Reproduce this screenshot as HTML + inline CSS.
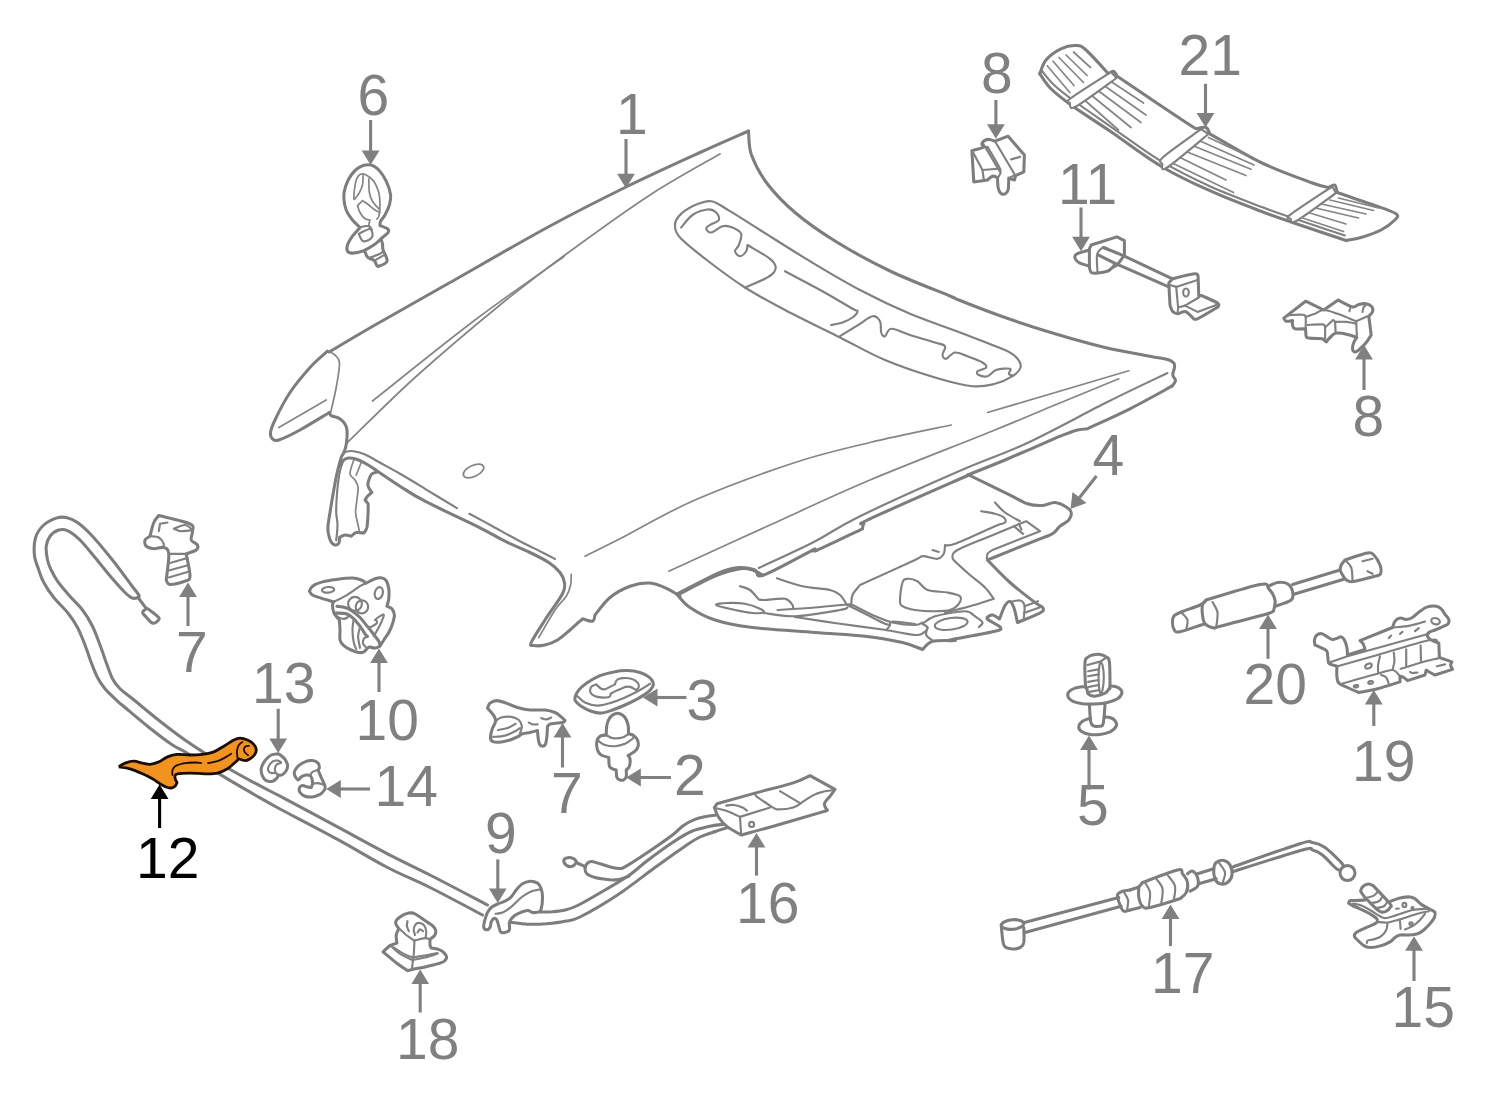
<!DOCTYPE html>
<html><head><meta charset="utf-8">
<style>
html,body{margin:0;padding:0;background:#fff;}
body{width:1487px;height:1093px;overflow:hidden;font-family:"Liberation Sans",sans-serif;}
svg{display:block;position:absolute;left:0;top:0;}
svg path,svg line,svg ellipse,svg circle,svg polyline,svg polygon{vector-effect:non-scaling-stroke;}
.o{fill:none;stroke:#7d7d7d;stroke-width:3.05;stroke-linecap:round;stroke-linejoin:round;}
.m{fill:none;stroke:#808080;stroke-width:2.15;stroke-linecap:round;stroke-linejoin:round;}
.t{fill:none;stroke:#858585;stroke-width:1.7;stroke-linecap:round;stroke-linejoin:round;}
.w{fill:#fff;}
.lbl{font-family:"Liberation Sans",sans-serif;font-size:56px;fill:#808080;}
.ar{fill:#808080;stroke:none;}
.al{stroke:#808080;stroke-width:2.6;fill:none;}
</style></head><body>
<svg width="1487" height="1093" viewBox="0 0 1487 1093">
<path class="o" d="M748.5,131C740.4,134.6 720.6,143.1 700,152.5C679.4,161.9 650,175.2 625,187.5C600,199.8 579.2,210.2 550,226C520.8,241.8 479.2,266 450,282.5C420.8,299 395.2,313.4 375,325C354.8,336.6 336.7,347.5 329,352"/>
<path class="o" d="M748.5,131C749,135 748.3,146.2 751.5,155C754.7,163.8 760.2,174.4 767.5,184C774.8,193.6 783.8,203 795,212.5C806.2,222 819.2,231.2 835,241C850.8,250.8 870.8,261.8 890,271C909.2,280.2 938.5,291.2 950,296C961.5,300.8 949.6,296.4 958.8,300C967.9,303.6 989,311.9 1005,317.5C1021,323.1 1038.3,328.8 1055,333.8C1071.7,338.8 1089.2,343.8 1105,347.5C1120.8,351.2 1139.6,354.2 1150,356.2C1160.4,358.2 1163.5,358.4 1167.5,359.5C1171.5,360.6 1172.6,361.7 1173.8,363C1174.9,364.3 1174.7,365.5 1174.5,367.5C1174.3,369.5 1172.6,372.8 1172.8,375C1172.9,377.2 1175.6,378.6 1175.5,380.5C1175.4,382.4 1172.6,385.3 1172,386.2"/>
<path class="t" d="M720,154C708.3,160.8 675.8,178.2 650,195C624.2,211.8 590,236.7 565,255C540,273.3 525,284.6 500,305C475,325.4 440.4,354.6 415,377.5C389.6,400.4 358.8,431.7 347.5,442.5"/>
<path class="t" d="M564,256.5C549.2,267.1 506.9,295.9 475,320C443.1,344.1 389.6,387.5 372.5,401"/>
<path class="o" d="M327.5,351.2C324.6,354 316.2,360.6 310,367.5C303.8,374.4 295.8,383.8 290,392.5C284.2,401.2 278.2,413.3 275,420C271.8,426.7 270.9,429.4 270.5,432.5C270.1,435.6 271.1,437.5 272.5,438.8C273.9,440 274.2,441.5 278.8,440C283.3,438.5 291.6,434.6 300,430C308.4,425.4 324.5,415.4 329.4,412.5"/>
<path class="t" d="M328.8,351.2C330,352.1 334.5,354.2 336.2,356.2C338,358.3 339.5,358.5 339.5,363.8C339.5,369 337.7,379.4 336.2,387.5C334.8,395.6 331.6,408.3 330.6,412.5"/>
<path class="t" d="M278.8,427.5L326.2,400"/>
<path class="o" d="M329.4,412.5C329.7,413 329.7,414.7 331.2,415.6C332.8,416.6 336.6,416.9 338.8,418.1C340.9,419.4 343,421.2 344.4,423.1C345.7,425 346.5,426.8 346.9,429.4C347.3,432 347.1,435.7 346.9,438.8C346.7,441.8 346.2,445 345.6,447.5C345,450 343.9,452.1 343.1,453.8C342.4,455.4 342.2,454.6 341.2,457.5C340.3,460.4 338.8,465.8 337.5,471.2C336.2,476.7 335,483.1 333.8,490C332.5,496.9 330.9,506.7 330,512.5C329.1,518.3 328.4,521.7 328.1,525C327.8,528.3 327.8,529.8 328.2,532.5C328.7,535.2 329.6,539.2 330.8,541.2C331.9,543.3 333.6,544.7 335,545C336.4,545.3 338.2,544.2 339,543C339.8,541.8 339.4,538.4 339.5,537.5C340.4,537.1 343,535.2 345,535C347,534.8 350.2,536 351.2,536.2C352.1,535.6 354.2,533 356.2,532.5C358.3,532 362.5,533 363.8,533.1C364.3,532.2 366.1,530.9 366.9,527.5C367.6,524.1 367.9,516.5 368.1,512.5C368.3,508.5 368.1,505.2 368.1,503.8L365,500C365.4,499.4 366.4,497.5 367.5,496.2C368.6,495 371.1,493.1 371.9,492.5C371.2,491.5 368.6,488.3 368.1,486.2C367.6,484.2 368.1,482.1 368.8,480C369.4,477.9 370.4,475.1 371.9,473.8C373.3,472.4 376.6,472.2 377.5,471.9"/>
<path class="m" d="M341.9,462.5C341.4,465 339.6,472.1 338.8,477.5C337.9,482.9 337.3,489.2 336.9,495C336.5,500.8 336.1,507.5 336.2,512.5C336.4,517.5 337.5,520.3 337.5,525C337.5,529.7 336.5,537.9 336.2,540.5"/>
<path class="t" d="M353.8,460C353.1,462.3 349.8,470.4 350,473.8C350.2,477.1 353.6,477.7 355,480C356.4,482.3 357.8,484.2 358.1,487.5C358.4,490.8 357.3,495.8 356.9,500C356.5,504.2 355.5,508.8 355.6,512.5C355.7,516.2 356.9,519.4 357.5,522.5C358.1,525.6 359.1,529.8 359.4,531.2"/>
<path class="t" d="M361.2,462.5L356.2,475"/>
<path class="m" d="M343.1,453.8C343.8,453.4 345.1,451.9 346.9,451.5C348.6,451.1 350.7,450.8 353.8,451.2C356.8,451.7 361,452.7 365,454.4C369,456 371.7,458 377.5,461.2C383.3,464.5 392.1,469.2 400,473.8C407.9,478.3 415.5,483 425,488.8C434.5,494.5 451.6,504.9 456.9,508.1"/>
<path class="m" d="M469.4,513.8C473.2,515.8 484.5,521.9 492.5,526.2C500.5,530.6 509.2,535.6 517.5,540C525.8,544.4 536.2,549.3 542.5,552.5C548.8,555.7 552.9,557.9 555,559"/>
<path class="o" d="M341.2,465C341.6,464.3 342,461.8 343.1,460.6C344.3,459.5 346.1,458.4 348.1,458.1C350.1,457.8 352.2,457.9 355,458.8C357.8,459.6 361.2,461 365,463.1C368.8,465.2 371.7,467.4 377.5,471.2C383.3,475.1 392.1,481.2 400,486.2C407.9,491.2 411.7,494.3 425,501.2C438.3,508.2 466.7,521.1 480,527.8C493.3,534.4 496.7,537.1 505,541.2C513.3,545.4 522.7,549 530,552.5C537.3,556 543.8,559.2 548.8,562.5C553.8,565.8 557.4,569.2 560,572.5C562.6,575.8 564,579 564.4,582.5C564.8,586 565.7,587.5 562.5,593.8C559.3,600 550.2,611.9 545,620C539.8,628.1 533.1,638.2 531.2,642.5C529.4,646.8 531.5,645.1 533.8,645.5C536,645.9 541,645.9 545,645C549,644.1 553.3,642.5 557.5,640C561.7,637.5 565.8,633.5 570,630C574.2,626.5 580.4,620.6 582.5,618.8C584.2,619.2 590.4,621.9 592.5,621.2C594.6,620.6 594.6,616 595,615C597.5,612.1 604.2,602.3 610,597.5C615.8,592.7 623.3,588.7 630,586.2C636.7,583.8 643.8,582.6 650,583C656.2,583.4 662.5,586.5 667.5,588.8C672.5,591 677.9,595 680,596.2"/>
<path class="t" d="M571.2,574.4C571.1,576.1 571.5,581.4 570.6,585C569.8,588.6 568.9,592.1 566.2,596.2C563.6,600.4 559.6,603.1 555,610C550.4,616.9 541.5,632.9 538.8,637.5"/>
<ellipse class="t" cx="473.5" cy="471" rx="11" ry="5.5" transform="rotate(-25 473.5 471)"/>
<path class="t" d="M585,556.2C590.8,553.3 601.7,548.1 620,538.8C638.3,529.4 665.8,512.7 695,500C724.2,487.3 765.8,472.1 795,462.5C824.2,452.9 844,448.8 870,442.5C896,436.2 937.7,427.9 951.2,425"/>
<path class="t" d="M668.8,571.2C685.6,563.5 736.5,540.2 770,525C803.5,509.8 833,495.6 870,480C907,464.4 960.9,443.8 991.8,431.2C1022.6,418.8 1033.8,413.8 1055,405C1076.2,396.2 1108.1,383.1 1118.8,378.8"/>
<path class="t" d="M1128.8,370.8L987.5,412.5"/>
<path class="m" d="M758.8,568C767.9,563.7 796.9,550.6 813.8,542C830.6,533.4 835.6,528.1 860,516.2C884.4,504.4 932.2,482.9 960,470.8C987.8,458.6 1002.1,454.8 1026.8,443.2C1051.4,431.8 1084.3,413.5 1107.8,401.8C1131.2,390 1157.5,377.8 1167.5,373"/>
<path class="o" d="M1172,386.2C1165,390 1144.1,401.7 1130,408.8C1115.9,415.8 1094.6,425.4 1087.5,428.8C1085.8,429 1082.1,428.8 1077.5,430C1072.9,431.2 1062.9,435.2 1060,436.2C1050.8,440.2 1020.4,453.5 1005,460C989.6,466.5 973.8,472.5 967.5,475"/>
<path class="o" d="M968.8,475C952.3,482.3 887.5,510.6 870,518.8C852.5,526.9 865,522.1 863.8,523.8C862.5,525.4 862.7,527.9 862.5,528.8C855,532.3 825.4,546.7 817.5,550C809.6,553.3 815.4,549 815,548.8C806.5,553.1 773.8,571.5 763.8,575C753.8,578.5 759,571.2 755,570C751,568.8 745.8,567.1 740,567.5C734.2,567.9 730.4,568.1 720,572.5C709.6,576.9 684.6,590.2 677.5,593.8"/>
<path class="m" d="M711.2,201.2C705,200.4 697.9,203.8 692.5,206.2C687.1,208.8 681.7,212.9 678.8,216.2C675.8,219.6 674.6,222.5 675,226.2C675.4,230 675.4,232.7 681.2,238.8C687.1,244.8 699.4,254.4 710,262.5C720.6,270.6 732.5,279.6 745,287.5C757.5,295.4 769.2,301.7 785,310C800.8,318.3 823.3,329.2 840,337.5C856.7,345.8 869.2,353.3 885,360C900.8,366.7 920.4,373.1 935,377.5C949.6,381.9 962.5,385.2 972.5,386.2C982.5,387.3 988.3,385.4 995,383.8C1001.7,382.1 1008.2,379 1012.5,376.2C1016.8,373.5 1019.7,370.4 1020.5,367.5C1021.3,364.6 1020.1,361.7 1017.5,358.8C1014.9,355.8 1014.6,354.4 1005,350C995.4,345.6 975.8,338.5 960,332.5C944.2,326.5 926.7,320.8 910,313.8C893.3,306.7 876.7,298.8 860,290C843.3,281.2 826.7,271.2 810,261.2C793.3,251.2 773.3,238.3 760,230C746.7,221.7 738.1,216 730,211.2C721.9,206.5 717.5,202.1 711.2,201.2Z"/>
<path class="m" d="M681.2,227.5C683.1,225.4 688.1,218 692.5,215C696.9,212 703.5,209.9 707.5,209.5C711.5,209.1 714.4,210.8 716.2,212.5C718.1,214.2 719.8,217.9 718.8,220C717.7,222.1 712.1,223.5 710,225C707.9,226.5 706,227.5 706.2,228.8C706.5,230 708.5,232.9 711.2,232.5C714,232.1 719,227.1 722.5,226.2C726,225.4 729.4,226.2 732.5,227.5C735.6,228.8 740.2,230.8 741.2,233.8C742.3,236.7 739.8,242.1 738.8,245C737.7,247.9 734.8,249.4 735,251.2C735.2,253.1 738.1,256.2 740,256.2C741.9,256.2 745,253.1 746.2,251.2C747.5,249.4 747.3,246 747.5,245C751.2,247.3 765.3,255.2 770,258.8C774.7,262.3 774.9,264 775.5,266.2C776.1,268.5 775.5,270.4 773.8,272.5C772,274.6 769.8,276.2 765,278.8C760.2,281.2 748.3,286 745,287.5"/>
<path class="m" d="M785,271.2C791.2,274.6 811.2,285 822.5,291.2C833.8,297.5 846.7,305.4 852.5,308.8C858.3,312.1 857.5,309.8 857.5,311.2C857.5,312.7 855,315.6 852.5,317.5C850,319.4 846,321.2 842.5,322.5C839,323.8 833.1,324.6 831.2,325"/>
<path class="m" d="M840,336.2C843.3,334.2 854.6,327.1 860,323.8C865.4,320.4 869.2,316.7 872.5,316.2C875.8,315.8 878.5,318.5 880,321.2C881.5,324 880.4,330 881.2,332.5C882.1,335 883.3,336.9 885,336.2C886.7,335.6 887.1,329 891.2,328.8C895.4,328.5 902.7,332.7 910,335C917.3,337.3 929.2,340.6 935,342.5C940.8,344.4 943.8,344.2 945,346.2C946.2,348.3 942.3,352.9 942.5,355C942.7,357.1 944.2,359.2 946.2,358.8C948.3,358.3 951.5,352.9 955,352.5C958.5,352.1 962.9,354.6 967.5,356.2C972.1,357.9 979.4,360.6 982.5,362.5C985.6,364.4 987.1,366 986.2,367.5C985.4,369 978.8,370 977.5,371.2C976.2,372.5 977.1,374.2 978.8,375C980.4,375.8 984.6,377.1 987.5,376.2C990.4,375.4 992.5,371.2 996.2,370C1000,368.8 1007.9,368.1 1010,368.8C1012.1,369.4 1008.2,372.6 1008.8,373.8C1009.2,374.9 1012.3,375.4 1013,375.8"/>
<path class="o" d="M677.5,595C679.6,597.1 683.8,603.3 690,607.5C696.2,611.7 704.6,616.7 715,620C725.4,623.3 735.8,625.4 752.5,627.5C769.2,629.6 796.2,631 815,632.5C833.8,634 850.4,634.6 865,636.2C879.6,637.9 892.9,640.3 902.5,642.5C912.1,644.7 919.2,648.3 922.5,649.5C924.2,648.1 927.1,642.8 932.5,641.2C937.9,639.8 952.1,640.7 955,640.5C957.9,640.3 943.3,641.5 950,640C956.7,638.5 986.6,633.3 995,631.2C1003.4,629.2 1000.5,628.8 1000.5,627.5C1000.5,626.2 997.2,625.2 995,623.8C992.8,622.2 987.4,620 987,618.5C986.6,617 990.4,614.9 992.5,615C994.6,615.1 998.3,618.3 999.5,619C1000.4,616.8 1003.2,608.4 1005,605.5C1006.8,602.6 1008.5,601.1 1010,601.5C1011.5,601.9 1012.8,604.5 1014,608C1015.2,611.5 1016.9,620.1 1017.5,622.5C1021.2,620.9 1035.8,615.4 1040,613C1044.2,610.6 1043.8,609.8 1043,608C1042.2,606.2 1040.5,606.8 1035,602.5C1029.5,598.2 1017.9,589.6 1010,582.5C1002.1,575.4 991.2,563.8 987.5,560C996.2,556.5 1029.2,543.1 1040,538.8C1050.8,534.4 1049.2,535.8 1052.5,533.8C1055.8,531.7 1057.3,528.5 1060,526.2C1062.7,524 1066.9,522.3 1068.8,520C1070.6,517.7 1071.7,514.7 1071.2,512.5C1070.8,510.3 1069,508.7 1066.2,507C1063.5,505.3 1059,502.8 1055,502.5C1051,502.2 1047.1,505.3 1042.5,505.5C1037.9,505.7 1033.3,505.7 1027.5,503.8C1021.7,501.8 1017.3,498.5 1007.5,493.8C997.7,489 975.2,478.1 968.8,475"/>
<path class="o" d="M677.5,595C683.8,591.9 704.6,580.6 715,576.2C725.4,571.9 733.8,569.8 740,568.8C746.2,567.7 748.8,569 752.5,570C756.2,571 760.8,574.2 762.5,575"/>
<path class="m" d="M1010,602C1011.7,601.8 1017.6,599.9 1020,600.5C1022.4,601.1 1023.9,602.5 1024.5,605.5C1025.1,608.5 1023.9,616.5 1023.8,618.8"/>
<path class="m" d="M1024.5,606.2L1038,601.2"/>
<path class="m" d="M1023.8,613L1041,607"/>
<path class="m" d="M740,586.2C741.7,586.9 746.9,587.8 750,590C753.1,592.2 757.3,597.9 758.8,599.5C759.8,599.6 760.6,600.1 765,600C769.4,599.9 780.4,597.9 785,598.8C789.6,599.6 791.2,603.5 792.5,605C793.8,606.5 792.9,607.5 793,608"/>
<path class="m" d="M716.2,605C715,603.8 722.7,603.2 727.5,603C732.3,602.8 739.6,602.8 745,603.8C750.4,604.7 756.9,607.3 760,608.8C763.1,610.2 765,611.8 763.8,612.5C762.5,613.2 757.3,613.4 752.5,613C747.7,612.6 741,611.3 735,610C729,608.7 717.5,606.2 716.2,605Z"/>
<path class="m" d="M777,578.2C781.2,579.6 793.7,584.3 802.5,586.2C811.3,588.2 823.8,588.5 830,590C836.2,591.5 837.3,592.7 840,595C842.7,597.3 845.2,602.3 846.2,603.8"/>
<path class="m" d="M777.5,610C783.8,609.6 803.5,608.4 815,607.5C826.5,606.6 840,604.9 846.2,604.5C852.5,604.1 851.5,604.9 852.5,605"/>
<path class="m" d="M763.8,613C769,613.5 782.3,616.8 795,616.2C807.7,615.8 831.2,611.5 840,610C848.8,608.5 846.2,607.9 847.5,607.5"/>
<path class="m" d="M795,617C802.5,618.1 824.8,621.6 840,623.8C855.2,625.9 878.5,629 886.2,630"/>
<path class="m" d="M846.2,604.5C849.4,606 858.5,610.5 865,613.8C871.5,617 880.8,621.9 885,623.8C889.2,625.6 889.8,624 890,625C890.2,626 886.9,629.2 886.2,630"/>
<path class="m" d="M852.5,605C855.8,606.7 865.8,612.1 872.5,615C879.2,617.9 885.4,620.8 892.5,622.5C899.6,624.2 910,625 915,625C920,625 921.2,622.9 922.5,622.5"/>
<path class="m" d="M851.2,605C851.5,603.3 851,598.3 852.5,595C854,591.7 858.8,586.7 860,585C869.2,580.8 904.6,564.8 915,560C925.4,555.2 918.8,556.5 922.5,556.2C926.2,556 934,559.2 937.5,558.8C941,558.3 942.5,556 943.8,553.8C945,551.5 944.8,546.5 945,545C946.7,544.8 946.7,546.9 955,543.8C963.3,540.6 986.7,529.8 995,526.2C1003.3,522.7 1003.5,524 1005,522.5C1006.5,521 1005.4,519 1003.8,517.5C1002.1,516 998.8,514.8 995,513.8C991.2,512.7 983.5,511.7 981.2,511.2"/>
<path class="m" d="M932.5,550L938.8,552"/>
<path class="m" d="M995,502.5C996.7,504.2 1000.8,509.4 1005,512.5C1009.2,515.6 1017.5,519.8 1020,521.2"/>
<path class="m" d="M902.5,582.5C903.8,579 905,579 907.5,578.8C910,578.5 914.2,579.4 917.5,581.2C920.8,583.1 922.5,588.1 927.5,590C932.5,591.9 942.1,591.5 947.5,592.5C952.9,593.5 958.1,594.4 960,596.2C961.9,598.1 960.4,601.5 958.8,603.8C957.1,606 954,608.8 950,610C946,611.2 940.8,611.2 935,611.2C929.2,611.2 920.4,610.8 915,610C909.6,609.2 905,607.9 902.5,606.2C900,604.6 900,604 900,600C900,596 901.2,586 902.5,582.5Z"/>
<ellipse class="m" cx="951.2" cy="623.8" rx="16.5" ry="5.8" transform="rotate(-8 951.2 623.8)"/>
<path class="m" d="M922.5,623.8C924.6,622.5 927.9,618.3 935,616.2C942.1,614.2 958.3,611.2 965,611.2C971.7,611.2 972.1,614.4 975,616.2C977.9,618.1 981.9,620.7 982.5,622.5C983.1,624.3 979.4,626.2 978.8,627"/>
<path class="m" d="M890,625C890.5,624.4 888.8,621.7 893,621.5C897.2,621.3 911.3,623.6 915,624"/>
<path class="m" d="M886.2,630C891,630.8 908.8,634.6 915,635C921.2,635.4 921.7,633.8 923.8,632.5C925.8,631.2 927.7,629 927.5,627.5C927.3,626 923.3,624.4 922.5,623.8"/>
<path class="m" d="M927.5,627.5C927.3,628.8 925.4,632.8 926.2,635C927.1,637.2 931.5,639.6 932.5,640.5"/>
<path class="m" d="M987,560C987.1,559 986.6,555.4 987.5,553.8C988.4,552.1 991.7,550.6 992.5,550L1040,531.2L1026.2,521.2C1020.2,523.8 1001.5,531.5 990,536.2C978.5,541 963.8,546.5 957.5,550C951.2,553.5 952.7,555.4 952.5,557.5C952.3,559.6 953.3,559.6 956.2,562.5C959.2,565.4 965.2,570.8 970,575C974.8,579.2 981,583.5 985,587.5C989,591.5 992.3,596.9 993.8,598.8C989.8,600 978.1,604 970,606.2C961.9,608.5 949.2,611.5 945,612.5"/>
<path class="m" d="M1013.8,526.2L1023,533.8"/>
<path class="m" d="M1018.8,523.8L1021.5,529.5"/>
<path class="o" d="M360,227.5C358.8,226.2 354.8,222.9 352.5,220C350.2,217.1 347.7,213.8 346.2,210C344.8,206.2 343.9,201.5 343.8,197.5C343.6,193.5 344.4,190 345.6,186.2C346.9,182.5 348.9,178.2 351.2,175C353.6,171.8 356.8,168.5 360,166.9C363.2,165.2 367.5,164.5 370.6,165C373.8,165.5 376.1,167.3 378.8,170C381.4,172.7 384.3,177.1 386.2,181.2C388.2,185.4 390.1,191 390.6,195C391.1,199 390.3,201.7 389.4,205C388.4,208.3 386.5,212.3 385,215C383.5,217.7 381.5,219.5 380.6,221.2C379.8,223 380.1,224.9 380,225.6C381.2,226.1 386.1,227.6 387.5,228.8C388.9,229.9 389,231 388.1,232.5C387.3,234 384.9,235.4 382.5,237.5C380.1,239.6 377.1,242.7 373.8,245C370.4,247.3 366,249.9 362.5,251.2C359,252.6 355,253.1 352.5,253.1C350,253.1 348.3,252.6 347.5,251.2C346.7,249.9 346.7,247.5 347.5,245C348.3,242.5 350.4,239.2 352.5,236.2C354.6,233.3 358.8,229 360,227.5"/>
<path class="t" d="M353.8,198.8C353.9,197.3 354,193.1 354.4,190C354.8,186.9 355.3,182.6 356.2,180C357.2,177.4 358.3,175.2 360,174.4C361.7,173.5 364,173.9 366.2,175C368.5,176.1 371.7,178.3 373.8,181.2C375.8,184.2 377.7,188.5 378.8,192.5C379.8,196.5 380,201 380,205C380,209 379.3,213.9 378.8,216.2C378.2,218.6 377.2,218.5 376.9,219"/>
<path class="t" d="M363.1,175.6C363,177.2 363.2,182 362.5,185C361.8,188 360.1,191.4 358.8,193.8C357.4,196.1 355.1,198.4 354.4,199.4"/>
<path class="t" d="M368.8,178.8C368.9,181 368.8,188.8 369.4,192.5C370,196.2 370.8,198.4 372.5,201.2C374.2,204.1 378.2,208 379.4,209.4"/>
<path class="t" d="M380,212.5C379.2,212.1 376.9,211.2 375,210C373.1,208.8 370.8,206.6 368.8,205C366.7,203.4 363.5,201.4 362.5,200.6L357.5,205.6C357.9,206.8 358.8,210.3 360,212.5C361.2,214.7 363.3,217.5 365,218.8C366.7,220 369.2,219.8 370,220C369.8,220.8 368.7,223.8 368.8,225C368.8,226.2 370,226.8 370.2,227.1"/>
<path class="m" d="M358.8,233.8C360.6,232.9 367.8,229.2 370,228.8C372.2,228.3 371.5,230 371.9,231.2C372.3,232.5 373,234.8 372.5,236.2C372,237.7 370.3,239.2 368.8,240C367.2,240.8 364.5,241.6 363.1,241.2C361.8,240.9 361,238.6 360.6,238.1Z"/>
<path class="m" d="M361.9,226.9C362.6,226.7 364.9,226 366.2,226C367.6,226 369.1,226.2 370,226.9C370.9,227.6 371.2,229.7 371.5,230.2"/>
<path class="o" d="M365,251.9C365.3,252.6 366.2,255.2 366.9,256.2C367.5,257.3 367.5,257.4 368.8,258.1C370,258.9 373,259.4 374.4,260.6C375.7,261.9 376.1,264.7 376.9,265.6C377.6,266.6 377.2,266.8 378.8,266.2C380.3,265.7 384.9,263.8 386.2,262.5C387.6,261.2 387.4,260.8 386.9,258.8C386.4,256.7 383.9,252.5 383.1,250C382.4,247.5 382.8,245.4 382.5,243.8C382.2,242.1 381.5,240.6 381.2,240"/>
<path class="m" d="M368.8,258.1C370.6,257.4 377.6,254.9 380,253.8C382.4,252.6 382.6,251.7 383.1,251.2"/>
<path class="m" d="M374.4,260.6L383.1,255.6"/>
<path class="o" d="M971.9,150.6C973.6,150.1 980.8,148.6 982.5,147.5C984.2,146.4 981.6,144.9 981.9,143.8C982.2,142.6 983.1,141.4 984.4,140.6C985.6,139.9 987.6,139.3 989.4,139.4C991.1,139.5 994.1,140.9 995,141.2L1008.1,136.2L1024.4,155L1023.8,171.9L1015.6,175.6L1014.4,180L1008.8,178.1C1008.6,180.1 1008.8,187.4 1008.1,190C1007.5,192.6 1006.2,193.2 1005,193.8C1003.8,194.3 1001.8,194.2 1000.6,193.1C999.5,192.1 998.6,190.1 998.1,187.5C997.6,184.9 997.6,179.2 997.5,177.5C996.7,177.3 994.2,175.8 992.5,176.2C990.8,176.7 988.3,179.4 987.5,180L973.8,181.9Z"/>
<path class="m" d="M982.5,147.5L987.5,146.9C989.3,149.9 995.9,161.1 998.1,165C1000.3,168.9 1000.2,169.2 1000.6,170"/>
<path class="m" d="M973.1,152.5L982.5,170L998.1,168.8"/>
<path class="m" d="M982.5,170L983.8,180"/>
<path class="m" d="M983.1,143.8C984.3,145.6 987.4,150.6 990,155C992.6,159.4 997,167.1 998.8,170C1000.5,172.9 1000.7,171.2 1000.6,172.5C1000.5,173.8 998.5,176.7 998.1,177.5"/>
<path class="m" d="M995,141.2L1015,175L1008.8,178.1"/>
<path class="m" d="M1011.2,159.4L1020,156.9"/>
<path class="o" d="M1039.8,73.8C1040.8,71.5 1042.5,64.2 1046,60C1049.5,55.8 1056,51.2 1061,48.8C1066,46.3 1071.8,45.3 1076,45.5C1080.2,45.7 1080.6,45.3 1086,50C1091.4,54.7 1104.8,69.8 1108.5,73.8C1109.3,73.3 1112,70.8 1113.5,71.2C1115,71.7 1116.6,75.4 1117.2,76.2C1123.7,80.6 1144.5,94.8 1156,102.5C1167.5,110.2 1179.3,118.1 1186,122.5C1192.7,126.9 1194.3,127.7 1196,128.8C1197.7,128.5 1203.7,126.7 1206,127.5C1208.3,128.3 1209.1,132.7 1209.8,133.8C1218.3,138.5 1244.1,154.4 1261,162.5C1277.9,170.6 1299.8,178.3 1311,182.5C1322.2,186.7 1325.6,186.7 1328.5,187.5C1329.5,187.1 1333.3,184.2 1334.8,185C1336.2,185.8 1336.8,191.2 1337.2,192.5C1343.3,194.6 1363.7,201.5 1373.5,205C1383.3,208.5 1392.5,211.2 1396,213.8C1399.5,216.2 1397.2,217.3 1394.8,220C1392.2,222.7 1386.6,227.1 1381,230C1375.4,232.9 1366.8,235.8 1361,237.5C1355.2,239.2 1348.5,240 1346,240.5"/>
<path class="o" d="M1039.8,73.8C1041.6,76.2 1045.8,83.5 1051,88.8C1056.2,94 1061,97.8 1071,105C1081,112.2 1096,121.5 1111,131.8C1126,142 1144.3,156.3 1161,166.2C1177.7,176.2 1194.3,183.8 1211,191.2C1227.7,198.8 1246.4,205.7 1261,211.2C1275.6,216.8 1284.3,219.6 1298.5,224.5C1312.7,229.4 1338.1,237.8 1346,240.5"/>
<path class="m" d="M1042.2,71.2C1044.1,73.5 1048.3,79.6 1053.5,84.5C1058.7,89.4 1063.9,93.5 1073.5,100.5C1083.1,107.5 1096.4,116.6 1111,126.8C1125.6,136.9 1144.3,151.2 1161,161.2C1177.7,171.2 1194.3,179.2 1211,186.8C1227.7,194.3 1246.4,201.2 1261,206.8C1275.6,212.3 1284.5,215.2 1298.5,220C1312.5,224.8 1337,232.9 1344.8,235.5"/>
<path class="t" d="M1047.2,65.8L1069.8,92.5"/>
<path class="t" d="M1053,61.2L1074,85.5"/>
<path class="t" d="M1059,57.5L1083.5,82.5"/>
<path class="t" d="M1066,55L1087.2,75.5"/>
<path class="t" d="M1073.5,52L1090.5,67.5"/>
<path class="t" d="M1082.2,98L1118.5,130"/>
<path class="t" d="M1089.8,94L1131,127.5"/>
<path class="t" d="M1097.2,90L1141,122.5"/>
<path class="t" d="M1104,85.5L1146,115"/>
<path class="t" d="M1111,81.5L1143.5,103"/>
<path class="t" d="M1172.2,163L1233.5,192.5"/>
<path class="t" d="M1179,157L1226,180"/>
<path class="t" d="M1186,151.5L1246,175.5"/>
<path class="t" d="M1192.5,145.5L1251,169.2"/>
<path class="t" d="M1199,140.5L1254,165"/>
<path class="t" d="M1208.5,137.5L1248.5,156.2"/>
<path class="t" d="M1301,217.5L1343.5,231.5"/>
<path class="t" d="M1306.5,212L1346,224"/>
<path class="t" d="M1313.5,207.5L1358.5,218"/>
<path class="t" d="M1321.5,204L1366,214"/>
<path class="t" d="M1329.8,200L1373.5,210.5"/>
<path class="t" d="M1338.5,198L1378.5,208"/>
<path class="m" d="M1111,72C1104.3,76.3 1077.9,92.8 1071,98C1064.1,103.2 1068.9,101.6 1069.8,103C1070.6,104.4 1068.2,110.7 1076,106.5C1083.8,102.3 1109.8,82.8 1116.5,78Z" style="fill:#fff"/>
<path class="m" d="M1201,129.2C1194.8,133.8 1170,151 1163.5,156.8C1157,162.5 1161.6,162.2 1162.2,164C1162.9,165.8 1159.5,172.5 1167.2,167.5C1175,162.5 1201.6,139.6 1208.5,134Z" style="fill:#fff"/>
<path class="m" d="M1332.2,186.5C1325.4,191.1 1298,208.9 1291,214.2C1284,219.6 1289.5,217.7 1290.5,218.8C1291.5,219.8 1289.7,224.8 1297.2,220.5C1304.8,216.2 1329.5,197.6 1336,193Z" style="fill:#fff"/>
<path class="o" d="M1089.4,248.8L1091.2,245L1116.9,236.9L1124.4,240.6L1124.4,255C1123.2,256.6 1119.5,262.3 1117.5,264.4C1115.5,266.5 1114.2,266.4 1112.5,267.5C1110.8,268.6 1110,270.3 1107.5,271.2C1105,272.2 1100.2,272.9 1097.5,273.1C1094.8,273.3 1092.6,273.4 1091.2,272.5C1089.9,271.6 1089.7,268.3 1089.4,267.5Z"/>
<path class="o" d="M1089.4,250C1088.2,250.3 1084.7,251.1 1082.5,251.9C1080.3,252.6 1077.5,253.3 1076.2,254.4C1075,255.4 1074.6,256.8 1075,258.1C1075.4,259.5 1076.4,261.1 1078.8,262.5C1081.1,263.9 1087.6,265.6 1089.4,266.2"/>
<path class="m" d="M1097.5,273.1C1097.4,270.3 1096.7,259.9 1096.9,256.2C1097.1,252.6 1097.7,252.7 1098.8,251.2C1099.8,249.8 1101.7,248 1103.1,247.5C1104.6,247 1106.8,248.3 1107.5,248.5"/>
<path class="o" d="M1103.1,247.5C1106.7,249 1112.8,251 1124.4,256.2C1135.9,261.5 1164.5,275 1172.5,278.8"/>
<path class="o" d="M1098.8,255.2C1101.7,256.7 1104.6,258.5 1116.2,263.8C1127.9,269 1160,283 1168.8,286.9"/>
<path class="m" d="M1112.5,267.5C1112.7,267 1113.1,265.4 1113.8,264.8C1114.4,264.1 1115.8,263.9 1116.2,263.8"/>
<path class="o" d="M1168.8,283.1L1172.5,278.8C1176.1,277.9 1190.1,274.2 1194.4,273.8C1198.6,273.3 1197.5,275.8 1198.1,276.2L1198.8,296.2L1201.9,295.6C1204.5,296.9 1214.8,301.2 1217.5,303.1C1220.2,305 1218,306.2 1218.1,306.9C1214.7,308.9 1201.8,317 1197.5,318.8C1193.2,320.5 1193.3,317.7 1192.5,317.5C1191.5,316.6 1187.9,312.8 1186.2,311.9C1184.6,310.9 1184,311.6 1182.5,311.9C1181,312.2 1179.2,313.9 1177.5,313.8C1175.8,313.6 1173.8,312.7 1172.5,311.2C1171.2,309.8 1170.4,306 1170,305Z"/>
<path class="m" d="M1170,285L1176.2,286.9L1197.5,280"/>
<path class="m" d="M1176.2,286.9L1178.1,307.5L1185,305.6L1198.8,297.5"/>
<path class="m" d="M1185,305.6L1197.5,311.9L1216.2,305"/>
<path class="m" d="M1177.5,313.8L1178.1,307.5"/>
<ellipse class="m" cx="1186" cy="292.5" rx="2.8" ry="4"/>
<path class="o" d="M1283.8,318.1L1305.6,301.2L1323.8,310L1338.1,300C1340.5,301.1 1349.1,306.1 1352.5,306.9C1355.9,307.6 1356.5,304.9 1358.8,304.4C1361,303.9 1364.1,303.3 1366.2,303.8C1368.4,304.2 1370.8,305.5 1371.9,306.9C1372.9,308.2 1373,310.3 1372.5,311.9C1372,313.4 1369.4,315.5 1368.8,316.2L1371.2,335C1370.4,336.2 1368.3,340 1366.2,342.5C1364.2,345 1360.7,348.4 1358.8,350C1356.8,351.6 1355.4,352.3 1354.4,351.9C1353.3,351.5 1352.5,349.3 1352.5,347.5C1352.5,345.7 1353.6,342.9 1354.4,341.2C1355.1,339.6 1356.5,338.1 1356.9,337.5C1355.3,337 1350.9,335.1 1347.5,334.4C1344.1,333.6 1339.2,332.6 1336.2,333.1C1333.3,333.6 1331.7,336 1330,337.5C1328.3,339 1326.9,341.1 1326.2,341.9L1322.5,338.8C1320.2,338.6 1311.5,338.5 1308.8,338.1C1306,337.7 1306.8,337.8 1306.2,336.2C1305.7,334.7 1305.7,330 1305.6,328.8C1303.9,328.8 1297.2,329.4 1295,328.8C1292.8,328.1 1292.9,326.4 1292.5,325C1292.1,323.6 1292.5,321.4 1292.5,320.6C1291.5,320.7 1287.7,321.7 1286.2,321.2C1284.8,320.8 1284.2,318.6 1283.8,318.1"/>
<path class="m" d="M1286.2,316C1287.1,315.8 1288.5,315.2 1291.2,315C1294,314.8 1300.1,314.4 1302.5,314.8C1304.9,315.1 1305.1,314.5 1305.6,316.9C1306.1,319.2 1305.6,326.8 1305.6,328.8"/>
<path class="m" d="M1305.6,316.9C1307.2,316.4 1312,314.9 1315,313.8C1318,312.6 1320,310 1323.8,310C1327.5,310 1332.1,311.9 1337.5,313.8C1342.9,315.6 1353.1,320 1356.2,321.2L1356.9,337.5"/>
<path class="m" d="M1356.2,321.2L1367.5,316.2"/>
<path class="m" d="M1307.5,325C1310,324.9 1319.6,324 1322.5,324.4C1325.4,324.8 1324.6,325.1 1325,327.5C1325.4,329.9 1325,336.9 1325,338.8"/>
<path class="m" d="M1325,327.5L1333.1,320C1333.4,320.4 1334.6,320.4 1335,322.5C1335.4,324.6 1335.5,330.8 1335.6,332.5"/>
<path class="m" d="M1335.6,321.9C1337.4,321.9 1342.8,321.6 1346.2,321.9C1349.7,322.2 1354.6,323.4 1356.2,323.8"/>
<path class="m" d="M1349.4,311.2C1349.6,310.6 1350.1,308.2 1350.6,307.5C1351.1,306.8 1352.2,307 1352.5,306.9"/>
<path class="m" d="M1362.5,311.9C1362.7,311 1363.2,307.9 1363.8,306.9C1364.3,305.8 1365.3,305.8 1365.6,305.6"/>
<path class="o" d="M138.1,597.5C138.2,597.1 139.9,597.1 138.8,595C137.6,592.9 135.6,590.8 131.2,585C126.9,579.2 119,568.1 112.5,560C106,551.9 98.3,542.5 92.5,536.2C86.7,530 81.9,525.6 77.5,522.5C73.1,519.4 69.8,518.2 66.2,517.5C62.7,516.8 60,516.9 56.2,518.1C52.5,519.4 47.2,521.8 43.8,525C40.3,528.2 37.2,532.5 35.6,537.5C34.1,542.5 33.9,549.6 34.4,555C34.9,560.4 37.2,565.4 38.8,570C40.3,574.6 41.2,577.9 43.8,582.5C46.2,587.1 49.8,592.5 53.8,597.5C57.7,602.5 63.5,607.5 67.5,612.5C71.5,617.5 74.6,622.1 77.5,627.5C80.4,632.9 82.7,639.2 85,645C87.3,650.8 89.2,657.1 91.2,662.5C93.3,667.9 95.2,673.1 97.5,677.5C99.8,681.9 101.7,684.8 105,688.8C108.3,692.7 114.2,698.1 117.5,701.2C120.8,704.4 120,703.3 125,707.5C130,711.7 139.6,720 147.5,726.2C155.4,732.5 166,740.6 172.5,745C179,749.4 178.3,747.6 186.2,752.5C194.2,757.4 208.5,767.3 220,774.4C231.5,781.5 245,789.2 255,795C265,800.8 266.2,801.6 280,809C293.8,816.4 319.6,829.6 337.5,839.4C355.4,849.1 372.1,859.5 387.5,867.5C402.9,875.5 414.2,879.6 430,887.5C445.8,895.4 473.8,910.4 482.5,915"/>
<path class="o" d="M138.1,597.5C137.2,597.6 134.7,599 132.5,598.1C130.3,597.3 128.3,595.7 125,592.5C121.7,589.3 117.5,584.6 112.5,578.8C107.5,572.9 100.4,564 95,557.5C89.6,551 84.6,544.5 80,540C75.4,535.5 71,532.3 67.5,530.6C64,529 61.7,529.1 58.8,530C55.8,530.9 52.1,533.5 50,536.2C47.9,539 46.7,542.3 46.2,546.2C45.8,550.2 46.7,556 47.5,560C48.3,564 49.6,566.5 51.2,570C52.9,573.5 54.6,577.1 57.5,581.2C60.4,585.4 64.6,590.2 68.8,595C72.9,599.8 78.5,604.8 82.5,610C86.5,615.2 89.6,620.4 92.5,626.2C95.4,632.1 97.7,639 100,645C102.3,651 104.2,656.9 106.2,662.5C108.3,668.1 110.2,674.4 112.5,678.8C114.8,683.1 116.7,685.4 120,688.8C123.3,692.1 125.8,693.3 132.5,698.8C139.2,704.2 151.2,714.4 160,721.2C168.8,728.1 177.7,734.8 185,740C192.3,745.2 196,747.5 203.8,752.5C211.5,757.5 222.7,764.9 231.2,770C239.8,775.1 246.9,778.8 255,783.1C263.1,787.5 266.2,789 280,796.2C293.8,803.5 319.6,817.3 337.5,826.9C355.4,836.5 372.1,845.7 387.5,853.8C402.9,861.8 413.3,866.5 430,875C446.7,883.5 477.9,900 487.5,905"/>
<path class="o" d="M138.1,597.5L145,606.9"/>
<path class="o" d="M143.1,611.2L146.9,608.1C148.8,609.6 156.2,614.9 158.1,616.9C160.1,618.9 159.1,619 158.5,620C157.9,621 155.6,622.7 154.4,623.1C153.2,623.5 151.8,622.6 151.2,622.5C149.9,621 144.5,615.6 143.1,613.8C141.8,611.9 143.1,611.7 143.1,611.2"/>
<path class="o" d="M150,536.2C150.6,534 152.3,526 153.8,522.5C155.2,519 157.9,516.7 158.8,515.5C164,516.9 184.4,521.1 190,523.8C195.6,526.4 192.3,528.5 192.5,531.2C192.7,534 190.4,537.7 191.2,540C192.1,542.3 196.7,543.3 197.5,545C198.3,546.7 198.1,548.5 196.2,550C194.4,551.5 187.9,553.1 186.2,553.8C186.9,557.5 190.2,571.7 190,576.2C189.8,580.8 188.3,579.9 185,581.2C181.7,582.6 173.1,584.7 170,584.5C166.9,584.3 166.9,580.8 166.2,580C166.7,575.6 169.2,559.2 168.8,553.8C168.3,548.3 166.2,548.3 163.8,547.5C161.2,546.7 156.7,549 153.8,548.8C150.8,548.5 147.7,547.7 146.2,546.2C144.8,544.8 144.4,541.7 145,540C145.6,538.3 149.2,536.9 150,536.2"/>
<path class="m" d="M150,536.2C151.5,536.5 156.5,536.2 158.8,537.5C161,538.8 163.1,542 163.8,543.8C164.4,545.5 162.7,547.3 162.5,548"/>
<path class="m" d="M158.8,531.2L160,523.8L167.5,522.5"/>
<path class="m" d="M173.8,528.8C175.6,528.1 182.1,524.8 185,525C187.9,525.2 192.1,529 191.2,530C190.4,531 181.9,531 180,531.2Z"/>
<path class="m" d="M168.8,553.8L186.2,553.8"/>
<path class="m" d="M170,563L187.5,558"/>
<path class="m" d="M168.8,570.5L188.8,565"/>
<path class="m" d="M168.8,577.5L190,571.2"/>
<path class="o" d="M309.4,591.2C309.9,590.4 310.3,587.8 312.5,586.2C314.7,584.7 318.5,583 322.5,581.9C326.5,580.7 331.2,580 336.2,579.4C341.2,578.8 348.3,578 352.5,578.1C356.7,578.2 359,579.2 361.2,580C363.5,580.8 365.4,582.6 366.2,583.1C367.7,582.4 372.5,579.6 375,578.8C377.5,577.9 379.4,577.4 381.2,577.8C383.1,578.1 385,578.8 386.2,580.6C387.5,582.5 388.3,585.7 388.8,588.8C389.2,591.8 389.1,595.8 388.8,598.8C388.4,601.7 387.2,605 386.9,606.2C387.7,606.7 390.6,607.3 391.9,608.8C393.1,610.2 394.3,612.5 394.4,615C394.5,617.5 393.4,620.8 392.5,623.8C391.6,626.7 390.2,629.8 388.8,632.5C387.3,635.2 385.2,637.7 383.8,640C382.3,642.3 380.6,645.2 380,646.2C379.2,646.6 376.7,648 375,648.1C373.3,648.2 370.8,647.1 370,646.9C369.6,647.1 368.5,647.3 367.5,648.1C366.5,649 365.2,651.1 363.8,651.9C362.3,652.6 360.8,652.8 358.8,652.5C356.7,652.2 353.8,651.1 351.2,650C348.8,648.9 345.6,647.3 343.8,645.6C341.9,644 340.6,642.6 340,640C339.4,637.4 340.1,633.3 340,630C339.9,626.7 339.5,621.7 339.4,620C338.9,619.4 337.2,617.5 336.2,616.2C335.3,615 334.4,614.4 333.8,612.5C333.1,610.6 332.5,606.8 332.5,605C332.5,603.2 333.5,602.4 333.8,601.9C331.7,601.2 324.8,599.3 321.2,598.1C317.7,597 314.5,596.1 312.5,595C310.5,593.9 309.9,591.9 309.4,591.2"/>
<ellipse class="m" cx="328.1" cy="589.8" rx="6.2" ry="2.8" transform="rotate(-5 328.1 589.8)"/>
<ellipse class="m" cx="378.8" cy="593.1" rx="4" ry="6" transform="rotate(15 378.8 593.1)"/>
<path class="m" d="M333.8,601.9C335.6,600.9 340.6,598.9 345,596.2C349.4,593.6 356.5,588.4 360,586.2C363.5,584.1 365.2,583.6 366.2,583.1"/>
<ellipse class="m" cx="355" cy="603.8" rx="6.9" ry="6.9"/>
<ellipse class="m" cx="361.9" cy="606.9" rx="6.2" ry="6.5" transform="rotate(20 361.9 606.9)"/>
<path class="o" d="M336.9,606.2C338.2,606.5 342.4,606.7 345,607.5C347.6,608.3 350,609.6 352.5,611.2C355,612.9 357.7,615.2 360,617.5C362.3,619.8 364.4,622.7 366.2,625C368.1,627.3 369.2,628.5 371.2,631.2C373.3,634 377.3,638.9 378.8,641.2C380.2,643.6 379.8,644.6 380,645.2" style="fill:none"/>
<path class="o" d="M336.2,613.1C337.9,613.2 343.3,612.8 346.2,613.8C349.2,614.7 351.5,616.7 353.8,618.8C356,620.8 358.1,623.8 360,626.2C361.9,628.8 363.8,632 365,633.8C366.2,635.5 367.1,636 367.5,636.5"/>
<path class="m" d="M336.2,616.2C337.3,616.7 340.6,618.5 342.5,618.8C344.4,619 346.6,618.1 347.5,617.5C348.4,616.9 348,615.4 348.1,615"/>
<path class="m" d="M353.8,618.8C353.5,620.6 352.5,626 352.5,630C352.5,634 353.1,639.3 353.8,642.5C354.4,645.7 355.8,647.9 356.2,649"/>
<path class="m" d="M360,627.5C359.7,629 358.1,632.9 358.1,636.2C358.1,639.6 359.7,645.8 360,647.8"/>
<path class="m" d="M367.5,636.2C366.9,636.7 364.5,637.5 363.8,638.8C363,640 362.7,642.3 363.1,643.8C363.5,645.2 365.5,646.8 366.2,647.5C367,648.2 367.3,648 367.5,648.1"/>
<path class="m" d="M375,620C375.6,619.5 377.3,617.7 378.8,616.9C380.2,616 383.5,613.6 383.8,615C384,616.4 381.7,621.5 380,625C378.3,628.5 374.8,634.4 373.8,636.2"/>
<path class="m" d="M376.2,620C376.4,620.5 377.5,622.1 376.9,623.1C376.2,624.2 373.8,625.5 372.5,626.2C371.2,627 369.9,627.3 369.4,627.5"/>
<path d="M118.8,766.9C119.8,766.2 122.5,764.1 125,763.1C127.5,762.2 130.8,761.2 133.8,761.2C136.7,761.2 139.8,762.6 142.5,763.1C145.2,763.6 147.3,764.6 150,764.4C152.7,764.2 155.8,763.1 158.8,761.9C161.7,760.6 164.4,758.1 167.5,756.9C170.6,755.6 173.8,754.7 177.5,754.4C181.2,754.1 185.8,755 190,755C194.2,755 198.5,754.9 202.5,754.4C206.5,753.9 210.2,753.2 213.8,751.9C217.3,750.5 220.4,748.2 223.8,746.2C227.1,744.3 231,741.4 233.8,740C236.5,738.6 237.7,738.1 240,738.1C242.3,738.1 245.2,739 247.5,740C249.8,741 252.3,742.7 253.8,744.4C255.2,746 256.1,748.2 256.2,750C256.4,751.8 255.4,753.5 254.4,755C253.3,756.5 251.6,757.8 250,758.8C248.4,759.7 246.9,760.6 245,760.6C243.1,760.6 239.8,759.1 238.8,758.8C238.1,759.4 236.9,760.8 235,762.5C233.1,764.2 230.4,767 227.5,768.8C224.6,770.5 221.2,772.3 217.5,773.1C213.8,774 209.6,773.8 205,773.8C200.4,773.8 194.6,773.1 190,773.1C185.4,773.1 180,773.2 177.5,773.8C175,774.3 175.3,775.2 175,776.2C174.7,777.3 175.3,778.9 175.6,780C175.9,781.1 177.3,781.9 176.9,783.1C176.5,784.4 174.7,786.8 173.1,787.5C171.6,788.2 169.7,788.1 167.5,787.5C165.3,786.9 162.5,785.2 160,783.8C157.5,782.3 155.4,780.4 152.5,778.8C149.6,777.1 146.2,775.4 142.5,773.8C138.8,772.1 134,769.9 130,768.8C126,767.6 120.6,767.2 118.8,766.9" style="fill:#f2921f;stroke:#1a0d05;stroke-width:2.8;stroke-linejoin:round"/>
<path d="M172.5,775C172.5,774.2 171.9,771.6 172.5,770C173.1,768.4 174.2,766.8 176.2,765.6C178.3,764.5 181.9,763.6 185,763.1C188.1,762.6 192.3,762.5 195,762.5C197.7,762.5 200.2,763 201.2,763.1" style="fill:none;stroke:#1a0d05;stroke-width:1.8;stroke-linecap:round"/>
<path d="M208.1,763.1C209.7,762.8 214.5,762.3 217.5,761.2C220.5,760.2 224,758.1 226.2,756.9C228.5,755.6 230.4,754.3 231.2,753.8" style="fill:none;stroke:#1a0d05;stroke-width:1.8;stroke-linecap:round"/>
<path d="M237.5,758.1C237.4,757 236.7,753.4 236.9,751.2C237.1,749.1 237.8,746.6 238.8,745C239.7,743.4 241.9,742.4 242.5,741.9" style="fill:none;stroke:#1a0d05;stroke-width:1.8;stroke-linecap:round"/>
<path d="M248.1,755.2C247.6,754.8 245.7,753.5 245,752.5C244.3,751.5 243.9,750 244,749C244.1,748 244.8,746.8 245.6,746.2C246.5,745.7 248.4,745.8 249,745.8" style="fill:none;stroke:#1a0d05;stroke-width:1.8;stroke-linecap:round"/>
<path class="o" d="M278.1,753.8C277,754 273.4,753.9 271.2,755C269.1,756.1 266.7,758.3 265,760.6C263.3,762.9 261.7,766.1 261.2,768.8C260.8,771.4 261.7,774.3 262.5,776.2C263.3,778.2 264.6,779.8 266.2,780.6C267.9,781.5 270.7,781.7 272.5,781.2C274.3,780.8 275.9,779.2 276.9,778.1C277.8,777.1 277.9,775.5 278.1,775C278.8,775 280.5,775.7 281.9,775C283.2,774.3 285.3,772.3 286.2,770.6C287.2,769 287.7,766.9 287.5,765C287.3,763.1 286,760.9 285,759.4C284,757.8 282.4,756.6 281.2,755.6C280.1,754.7 278.6,754.1 278.1,753.8"/>
<path class="m" d="M275.6,772.5C274.9,772.6 272.5,773.5 271.2,773.1C270,772.7 268.4,771.4 268.1,770C267.8,768.6 268.5,766.5 269.4,765C270.2,763.5 271.7,762 273.1,761.2C274.6,760.5 276.8,760.4 278.1,760.6C279.5,760.8 280.7,762.2 281.2,762.5"/>
<path class="m" d="M278.1,775C277.7,774.6 276.1,773.6 275.6,772.5C275.1,771.4 274.8,769.5 275,768.1C275.2,766.8 275.9,765.2 276.9,764.4C277.8,763.5 280,763.3 280.6,763.1"/>
<path class="o" d="M295,776.2C294.9,775.5 293.9,773.5 294.4,771.9C294.9,770.2 296.4,767.9 298.1,766.2C299.9,764.6 302.6,762.8 305,761.9C307.4,760.9 310.3,760.4 312.5,760.6C314.7,760.8 317,762 318.1,763.1C319.3,764.3 319.4,766.4 319.4,767.5C319.4,768.6 318.3,769.6 318.1,770C318.6,771.2 320.1,774.8 321.2,777.5C322.4,780.2 324.5,784.2 325,786.2C325.5,788.3 325.2,788.6 324.4,790C323.5,791.4 322,793.2 320,794.4C318,795.5 315,796.6 312.5,796.9C310,797.2 307.1,797 305,796.2C302.9,795.5 300.9,793.9 300,792.5C299.1,791.1 299,789.3 299.4,788.1C299.8,787 301.1,785.8 302.5,785.6C303.9,785.4 306,786.6 307.5,786.9C309,787.2 310.6,787.4 311.2,787.5C311.5,786.9 312.4,785.2 312.5,783.8C312.6,782.3 312.3,780.1 311.9,778.8C311.5,777.4 310.9,776.2 310,775.6C309.1,775 307.7,774.8 306.2,775C304.8,775.2 302.6,776 301.2,776.9C299.9,777.7 299.2,780.1 298.1,780C297.1,779.9 295.5,776.9 295,776.2"/>
<path class="m" d="M318.1,770C317.2,770.3 313.9,770.9 312.5,771.9C311.1,772.8 310.4,775 310,775.6"/>
<path class="m" d="M312.5,783.8C313.3,783.6 315.8,783 317.5,783.1C319.2,783.2 321.7,784.2 322.5,784.4"/>
<path class="o" d="M575,697.5C575.5,695.6 576.7,692.5 578.8,690C580.8,687.5 584,684.9 587.5,682.5C591,680.1 595.6,677.4 600,675.6C604.4,673.9 609.2,672.7 613.8,671.9C618.3,671 623.1,670.5 627.5,670.6C631.9,670.7 636.5,671.5 640,672.5C643.5,673.5 646.6,675.2 648.8,676.9C650.9,678.5 652.5,680.8 653.1,682.5C653.8,684.2 653.4,685.2 652.5,686.9C651.6,688.5 650,690.5 647.5,692.5C645,694.5 641.2,696.7 637.5,698.8C633.8,700.8 629.2,703.1 625,705C620.8,706.9 616.5,708.6 612.5,710C608.5,711.4 604.8,712.9 601.2,713.1C597.7,713.3 594.6,712.4 591.2,711.2C587.9,710.1 583.9,707.9 581.2,706.2C578.6,704.6 576.7,702.7 575.6,701.2C574.6,699.8 574.5,699.4 575,697.5Z"/>
<path class="m" d="M577.5,696.2C578.8,697.3 581.7,700.9 585,702.5C588.3,704.1 593.3,705.5 597.5,705.6C601.7,705.7 605.4,704.5 610,703.1C614.6,701.8 620,699.7 625,697.5C630,695.3 635.8,692.3 640,690C644.2,687.7 648.3,684.8 650,683.8"/>
<path class="m" d="M590,691.2C590.2,690.5 590.2,688 591.2,686.9C592.3,685.7 595.4,684.8 596.2,684.4C597.1,685.1 599.8,687.9 601.2,688.8C602.7,689.6 604.4,689.3 605,689.4L615,684.4C615.3,683.6 615.6,681 616.9,680C618.1,679 620.1,678.3 622.5,678.1C624.9,677.9 628.8,678 631.2,678.8C633.8,679.5 636.2,681.1 637.5,682.5C638.8,683.9 639,685.6 638.8,686.9C638.5,688.1 636.7,689.5 636.2,690C635.2,689.5 631.9,687.4 630,686.9C628.1,686.4 625.8,686.9 625,686.9C623.1,687.7 616.1,690.7 613.8,691.9C611.4,693 611.1,693.4 610.6,693.8C610.5,694.2 610.7,695.6 610,696.2C609.3,696.9 608.3,697.4 606.2,697.5C604.2,697.6 599.9,697.4 597.5,696.9C595.1,696.4 593.1,695.3 591.9,694.4C590.6,693.4 590.3,691.8 590,691.2"/>
<path class="o" d="M606.2,735C606.4,733.3 606.2,727.9 606.9,725C607.5,722.1 608.6,719.4 610,717.5C611.4,715.6 613.3,714.4 615,713.8C616.7,713.1 618.3,713.1 620,713.8C621.7,714.4 623.6,715.6 625,717.5C626.4,719.4 627.5,722.3 628.1,725C628.7,727.7 628.4,732.3 628.5,733.8"/>
<path class="o" d="M606.2,735C605.2,735.2 601.6,735.2 600,736.2C598.4,737.3 597.3,739 596.9,741.2C596.5,743.5 596.8,747.7 597.5,750C598.2,752.3 599.4,753.8 601.2,755C603.1,756.2 607.5,757.1 608.8,757.5C608.9,759 608.8,764.4 609.4,766.2C610,768.1 611.4,768.1 612.5,768.8C613.6,769.4 615.6,769.8 616.2,770C616.4,771.2 616.2,775.8 616.9,777.5C617.5,779.2 618.9,779.6 620,780C621.1,780.4 622.7,780.3 623.8,779.8C624.8,779.2 625.8,778.5 626.2,776.9C626.7,775.2 626.2,771.1 626.2,770C626.8,769.4 628.8,768.1 629.4,766.2C630,764.4 630.2,760.5 630,758.8C629.8,757 628.4,756.1 628.1,755.6C629.3,754.9 633.3,752.8 635,751.2C636.7,749.7 637.7,748.1 638.1,746.2C638.5,744.4 638.2,741.8 637.5,740C636.8,738.2 635.2,736.7 633.8,735.6C632.2,734.6 629.4,734.1 628.5,733.8"/>
<path class="m" d="M598.8,741.2C599.8,741.9 602.3,744.2 605,745C607.7,745.8 611.7,746.5 615,746.2C618.3,746 622.1,745 625,743.8C627.9,742.5 631,740.1 632.5,738.8C634,737.4 633.8,736.4 634,735.9"/>
<path class="m" d="M606.2,735C607.3,735.5 609.8,737.7 612.5,738.1C615.2,738.5 619.8,738.2 622.5,737.5C625.2,736.8 627.5,734.4 628.5,733.8"/>
<path class="o" d="M487.5,708.1C487.9,707.3 488.4,704.4 490,703.1C491.6,701.9 494.2,700.6 496.9,700.6C499.6,700.6 502.8,702 506.2,703.1C509.7,704.3 513.5,706.4 517.5,707.5C521.5,708.6 525.4,709.6 530,710C534.6,710.4 540.8,709.6 545,710C549.2,710.4 552.3,711.4 555,712.5C557.7,713.6 559.6,715.5 561.2,716.9C562.9,718.2 564.4,720 565,720.6C564.6,720.9 564.8,722 562.5,722.5C560.2,723 553.8,723.1 551.2,723.8C548.8,724.4 548.1,725.8 547.5,726.2C547.4,727.9 547.2,733.3 546.9,736.2C546.6,739.2 546.4,742.1 545.6,743.8C544.9,745.4 543.5,746.2 542.5,746.2C541.5,746.2 540.1,745.2 539.4,743.8C538.6,742.3 538.4,739.7 538.1,737.5C537.8,735.3 537.6,731.8 537.5,730.6C536.2,730.9 532.5,732 530,732.5C527.5,733 524.6,733 522.5,733.8C520.4,734.5 519.6,735.8 517.5,736.9C515.4,737.9 512.7,739.2 510,740C507.3,740.8 504,741.6 501.2,741.9C498.5,742.2 495.5,742.4 493.8,741.9C492,741.4 490.9,740.7 490.6,738.8C490.3,736.8 491,732.9 491.9,730C492.7,727.1 495.3,723.6 495.6,721.2C495.9,718.9 495.1,717.8 493.8,715.6C492.4,713.4 488.5,709.4 487.5,708.1"/>
<path class="m" d="M495.6,721.2C496.6,720.6 498.6,718.2 501.2,717.5C503.9,716.8 508.3,716.5 511.2,716.9C514.2,717.3 517,718.4 518.8,720C520.5,721.6 521.7,724.1 521.9,726.2C522.1,728.4 520.3,732 520,733.1"/>
<path class="m" d="M498.1,730C499.7,729.7 504.6,729.2 507.5,728.1C510.4,727.1 514.3,724.5 515.6,723.8"/>
<path class="m" d="M493.1,736.9C495.1,736.7 501.4,736.6 505,735.6C508.6,734.7 512.5,732.5 515,731.2C517.5,730 519.2,728.6 520,728.1"/>
<path class="m" d="M528.8,722.5C529.4,722.8 531,724.1 532.5,724.4C534,724.7 536.7,724.4 537.5,724.4"/>
<path class="m" d="M541.2,718.1C542.1,718.3 544.6,719.5 546.2,719.4C547.9,719.3 550.4,717.8 551.2,717.5"/>
<path class="o" d="M540,912C542.1,912 548.3,912.1 552.5,911.8C556.7,911.4 560.8,911 565,910C569.2,909 570.8,908.8 577.5,905.5C584.2,902.2 596.5,895 605,890C613.5,885 621.7,880.4 628.8,875.5C635.8,870.6 640.2,866 647.5,860.5C654.8,855 665.2,847.3 672.5,842.5C679.8,837.7 685,834.2 691.2,831.5C697.5,828.8 704.6,827.5 710,826.2C715.4,825 721.5,824.6 723.8,824.2"/>
<path class="o" d="M511.8,922.5C514.4,922.8 521.8,924 527.5,924.2C533.2,924.5 540,924.2 546.2,923.8C552.5,923.2 559.4,922.4 565,921.2C570.6,920.1 571.2,921.4 580,917C588.8,912.6 605,903.2 617.5,895C630,886.8 643.8,875.6 655,867.5C666.2,859.4 677.5,851.3 685,846.2C692.5,841.2 694.8,839.5 700,837C705.2,834.5 711.7,832.8 716.2,831.2C720.8,829.7 725.6,828.1 727.5,827.5"/>
<path class="o" d="M628.8,876.2C627.1,876.8 621.9,878.8 618.8,879.4C615.6,880 614,880.1 610,879.8C606,879.4 598.9,878.5 595,877.5C591.1,876.5 588.5,875.2 586.9,873.8C585.2,872.3 585,870.4 585,868.8C585,867.1 585.8,865 586.9,863.8C587.9,862.5 589.1,861.5 591.2,861.5C593.4,861.5 596.5,862.8 600,863.8C603.5,864.8 609.2,866.7 612.5,867.5C615.8,868.3 617.9,868.6 620,868.5C622.1,868.4 620.4,869.5 625,866.9C629.6,864.2 639.6,857.8 647.5,852.5C655.4,847.2 666.7,839.4 672.5,835C678.3,830.6 678.8,828.9 682.5,826.2C686.2,823.6 690.8,821 695,819.4C699.2,817.7 704,817 707.5,816.2C711,815.5 714.8,815.2 716.2,815"/>
<path class="o" d="M563.8,861.2C563.6,860 564.8,858.6 566.2,858.1C567.7,857.6 570.8,857.5 572.5,858.1C574.2,858.8 576.2,860.5 576.2,861.9C576.2,863.2 574.1,865.6 572.5,866.2C570.9,866.9 568.3,866.5 566.9,865.6C565.4,864.8 563.9,862.5 563.8,861.2Z"/>
<path class="o" d="M576.2,862.5L585.6,866.9"/>
<path class="o" d="M486.2,915.6C485.9,916.7 484.8,919.9 484.4,921.9C484,923.9 483.3,926.2 483.8,927.5C484.2,928.8 485.8,929.8 486.9,929.8C487.9,929.8 489.3,928.8 490,927.5C490.7,926.2 490.6,923.4 491.2,921.9C491.9,920.4 492.8,918.8 493.8,918.5C494.7,918.2 496,918.7 496.9,920C497.7,921.3 498.1,924.3 498.8,926.2C499.4,928.2 499.6,930.8 500.6,931.9C501.7,932.9 503.5,932.8 505,932.5C506.5,932.2 508.6,931.7 509.4,930C510.1,928.3 509,924.5 509.4,922.5C509.8,920.5 510.5,919.6 511.9,918.1C513.2,916.7 514.9,915 517.5,913.8C520.1,912.5 525,910.8 527.5,910.6C530,910.4 530.6,912.3 532.5,912.5C534.4,912.7 537.3,912.5 538.8,911.9C540.2,911.2 540.6,911.1 541.2,908.8C541.9,906.4 542.5,900.8 542.5,897.5C542.5,894.2 542.1,891.1 541.2,888.8C540.4,886.4 539.4,884.4 537.5,883.1C535.6,881.9 532.5,881.1 530,881.2C527.5,881.4 524.8,882.3 522.5,883.8C520.2,885.2 518.1,887.8 516.2,890C514.4,892.2 513.1,895 511.2,896.9C509.4,898.8 507.3,900.1 505,901.2C502.7,902.4 499.8,903 497.5,904C495.2,905 492.9,906.1 491.2,907.5C489.6,908.9 488.3,911.1 487.5,912.5C486.7,913.9 486.5,915.1 486.2,915.6" style="fill:#fff"/>
<path class="m" d="M495.6,913.8C496.8,913.5 499.9,913.6 502.5,912.5C505.1,911.4 508.1,909.4 511.2,906.9C514.4,904.4 518.1,900 521.2,897.5C524.4,895 526.9,893.2 530,891.9C533.1,890.5 538.3,889.8 540,889.4"/>
<path class="o" d="M383.1,951.9C384.3,950.8 387.7,947.1 390,945.6C392.3,944.2 395.7,943.5 396.9,943.1C396.8,941.8 395.9,937.4 396.2,935C396.6,932.6 398.3,929.8 398.8,928.8C398.2,927.7 395.4,924.5 395.6,922.5C395.8,920.5 397.8,918.4 400,916.9C402.2,915.3 406.2,913.6 408.8,913.1C411.2,912.6 412.3,912.5 415,913.8C417.7,915 422.1,918.6 425,920.6C427.9,922.6 430.7,924.1 432.5,925.6C434.3,927.2 435.2,928.4 435.6,930C436,931.6 435.9,933.4 435,935C434.1,936.6 430.8,938.6 430,939.4C430,940.3 429.8,943.5 430,945C430.2,946.5 431,947.6 431.2,948.1C432.7,948.4 437.5,948.8 440,950C442.5,951.2 445.4,953.9 446.2,955.6C447.1,957.4 446,959.4 445,960.6C444,961.9 443.3,962.1 440,963.1C436.7,964.2 429.6,965.8 425,966.9C420.4,967.9 415.4,968.8 412.5,969.4C409.6,970 408.3,970.4 407.5,970.6C405.8,969.5 401.6,966.9 397.5,963.8C393.4,960.6 385.5,953.9 383.1,951.9"/>
<path class="m" d="M391.2,946.2C392.7,947.5 396.5,951.5 400,953.8C403.5,956 410.4,959 412.5,960C414.6,959.6 420.8,958.5 425,957.5C429.2,956.5 435.4,954.4 437.5,953.8"/>
<path class="m" d="M414.4,940.6C414.3,942.8 414.2,949.1 413.8,953.8C413.3,958.4 412.2,966.2 411.9,968.8"/>
<path class="m" d="M399.4,928.8C400.5,929.8 403.8,933 406.2,935C408.8,937 413,939.7 414.4,940.6C416.1,940.2 422.4,938.3 425,938.1C427.6,937.9 429.2,939.2 430,939.4"/>
<path class="m" d="M407.5,921.2C407.4,922.1 406.7,924.6 406.9,926.2C407.1,927.9 408.4,930.4 408.8,931.2"/>
<path class="m" d="M415,935C414.8,934 413.3,930.7 413.8,928.8C414.2,926.8 415.8,923.8 417.5,923.1C419.2,922.5 422.3,923.6 423.8,925C425.2,926.4 425.9,929.2 426.2,931.2C426.6,933.3 425.7,936.5 425.6,937.5"/>
<path class="m" d="M417.5,932.5C417.9,932 419.1,929.6 420,929.4C420.9,929.2 422.6,930.9 423.1,931.2"/>
<path class="m" d="M393.8,947.5C395.2,948.4 399.4,951.5 402.5,953.1C405.6,954.8 410.8,956.8 412.5,957.5C415,957.1 423.3,955.7 427.5,955C431.7,954.3 435.8,953.4 437.5,953.1"/>
<path class="o" d="M714.4,807.5L716.9,803.8C723.2,802 742.4,796.6 755,793.1C767.6,789.7 783.3,786 792.5,783.1C801.7,780.2 807.1,776.9 810,775.6L835,789.4C834.2,790.5 831.8,793.9 830,796.2C828.2,798.6 824.9,801.5 824.4,803.8C823.9,806 826.5,809 826.9,810C826.1,810.3 830.7,809.4 822.5,811.9C814.3,814.4 791,821.1 777.5,825C764,828.9 747.3,833.3 741.2,835C739,833.6 731.2,829.8 727.5,826.9C723.8,824 720.9,820.7 718.8,817.5C716.6,814.3 715.1,809.2 714.4,807.5" style="fill:#fff"/>
<path class="m" d="M715.6,808.1C717.6,808.6 723.4,809.8 727.5,811.2C731.6,812.7 737.9,815.9 740,816.9L770,807.5"/>
<path class="m" d="M740,816.9L741.2,835"/>
<path class="m" d="M755,794.4L756.9,796.9C759.1,798.3 766.8,803.5 770,805.6C773.2,807.7 775.2,808.8 776.2,809.4C778.1,809.3 784.2,809.3 787.5,808.8C790.8,808.2 793.5,807.5 796.2,806.2C799,805 801,803 803.8,801.2C806.5,799.5 809.4,797.2 812.5,795.6C815.6,794.1 819,792.8 822.5,791.9C826,790.9 831.9,790.3 833.8,790"/>
<path class="m" d="M780,791.2L800,803.1"/>
<path class="m" d="M726.2,805.6C727.5,805.5 731,804.7 733.8,805C736.5,805.3 740.3,806.6 742.5,807.5C744.7,808.4 746.1,810.1 746.9,810.6"/>
<ellipse class="m" cx="751.6" cy="824.4" rx="2.5" ry="2.5"/>
<path class="o" d="M1206.2,600C1205.2,600.8 1204.2,603 1200,605C1195.8,607 1185.6,610.1 1181.2,612C1176.9,613.9 1175.2,614.5 1173.8,616.2C1172.3,618 1172.5,620.4 1172.5,622.5C1172.5,624.6 1172.7,627.2 1173.8,628.8C1174.8,630.3 1174.2,632.6 1178.8,632C1183.3,631.4 1196.8,626.3 1201.2,625C1205.7,623.7 1204.8,624.2 1205.5,624"/>
<path class="m" d="M1182,613C1182.9,614.2 1186.8,617.3 1187.5,620C1188.2,622.7 1186.5,627.7 1186.2,629.2"/>
<path class="o" d="M1206.2,600C1215.2,597.4 1249.6,586.4 1260,584.5C1270.4,582.6 1266.2,586.2 1268.8,588.8C1271.2,591.3 1274.2,596.5 1275,600C1275.8,603.5 1274,608.3 1273.8,610C1272.7,610.6 1276.5,611 1267.5,613.8C1258.5,616.5 1229,623.9 1220,626.2C1211,628.6 1216.2,628.4 1213.8,628C1211.2,627.6 1206.9,625.9 1205,623.8C1203.1,621.6 1202.9,618.1 1202.5,615C1202.1,611.9 1201.9,607.5 1202.5,605C1203.1,602.5 1205.6,600.8 1206.2,600"/>
<path class="m" d="M1212.5,602C1213.3,603.8 1216.9,608.3 1217.5,612.5C1218.1,616.7 1216.5,624.6 1216.2,627"/>
<path class="o" d="M1268.8,586.2C1270.2,585.6 1274.4,582.9 1277.5,582.5C1280.6,582.1 1285,582.3 1287.5,583.8C1290,585.2 1291.9,588.5 1292.5,591.2C1293.1,594 1294.2,597.5 1291.2,600C1288.3,602.5 1277.7,605.2 1275,606.2"/>
<path class="o" d="M1292.5,584.5L1340,570"/>
<path class="o" d="M1293,594.5L1343.8,579.2"/>
<path class="o" d="M1340,570C1340.2,569.2 1340.4,566.7 1341.2,565C1342.1,563.3 1344.4,560.8 1345,560C1348.8,558.8 1362.7,553.8 1367.5,553C1372.3,552.2 1371.7,553 1373.8,555C1375.8,557 1378.9,561.9 1380,565C1381.1,568.1 1381.3,571.9 1380.5,573.8C1379.7,575.6 1375.9,575.8 1375,576.2C1371.7,577.1 1359.4,580.4 1355,581.2C1350.6,582.1 1350.4,581.7 1348.8,581.2C1347.1,580.8 1346.2,580.2 1345,578.8C1343.8,577.3 1342.1,574 1341.2,572.5C1340.4,571 1340.2,570.4 1340,570"/>
<path class="m" d="M1345,560C1346,561.2 1350,564.1 1351.2,567.5C1352.5,570.9 1352.3,578.3 1352.5,580.5"/>
<path class="m" d="M1362.5,561.2L1372.5,558.8"/>
<path class="m" d="M1367.5,571.2L1372.5,573.8"/>
<path class="o" d="M1315,645C1314.9,644.2 1314.1,641.7 1314.4,640C1314.7,638.3 1315.6,636 1316.9,635C1318.1,634 1320.1,633.4 1321.9,633.8C1323.6,634.1 1325.7,635.9 1327.5,636.9C1329.3,637.8 1330.8,639.2 1332.5,639.4C1334.2,639.6 1336,638.5 1337.5,638.1C1339,637.7 1340.1,636.6 1341.2,636.9C1342.4,637.2 1343.4,638.2 1344.4,640C1345.3,641.8 1346.4,645 1346.9,647.5C1347.4,650 1347.4,653.8 1347.5,655L1365,649.4C1364.7,648.4 1364,645.2 1363.1,643.8C1362.3,642.3 1360.5,641.1 1360,640.6L1392.5,627.5C1392.9,626.5 1393.8,622.8 1395,621.2C1396.2,619.7 1398.1,618.4 1400,618.1C1401.9,617.8 1404.2,619.5 1406.2,619.4C1408.3,619.3 1410.2,618.9 1412.5,617.5C1414.8,616.1 1417.5,613 1420,611.2C1422.5,609.5 1424.8,607.7 1427.5,606.9C1430.2,606 1434,605.9 1436.2,606.2C1438.5,606.6 1439.8,607.4 1441.2,608.8C1442.7,610.1 1443.8,612.6 1445,614.4C1446.2,616.1 1448.2,617.8 1448.8,619.4C1449.3,620.9 1449,622.6 1448.1,623.8C1447.3,624.9 1445.9,625.2 1443.8,626.2C1441.6,627.3 1437.5,629 1435,630C1432.5,631 1430,631.5 1428.8,632.5C1427.5,633.5 1427.1,635 1427.5,636.2C1427.9,637.5 1429.4,638.9 1431.2,640C1433.1,641.1 1437.5,642.6 1438.8,643.1L1439.4,657.5L1451.9,661.9C1451.7,662.4 1450.5,663.8 1450.6,665C1450.7,666.2 1452.2,668.6 1452.5,669.4L1435,675C1434.2,674.6 1431.5,673.3 1430,672.5C1428.5,671.7 1426.9,670.4 1426.2,670L1425,675L1407.5,680.6C1406.9,680.1 1405,678.2 1403.8,677.5C1402.5,676.8 1400.6,676.5 1400,676.2L1400,681.9C1396.2,683 1384.4,687 1377.5,688.8C1370.6,690.5 1361.9,691.9 1358.8,692.5C1356.9,691.7 1350.8,689.1 1347.5,687.5C1344.2,685.9 1340.5,685 1338.8,683.1C1337,681.2 1337.2,679.1 1336.9,676.2C1336.6,673.4 1336.9,667.9 1336.9,666.2C1335.6,665.8 1330.8,664.8 1329.4,663.8C1327.9,662.7 1328.5,662.1 1328.1,660C1327.7,657.9 1327.9,653.2 1326.9,651.2C1325.8,649.3 1323.9,649.2 1321.9,648.1C1319.9,647.1 1316.1,645.5 1315,645"/>
<path class="m" d="M1329.4,662.5L1347.5,656.2L1428.8,633.8"/>
<path class="m" d="M1337.5,666.2L1377.5,655C1386.2,652.5 1420,642 1430,640C1440,638 1436.2,642.6 1437.5,643.1"/>
<path class="m" d="M1393.1,627.5C1395.9,627.2 1404.7,626.6 1410,625.6C1415.3,624.6 1422.5,622.2 1425,621.5"/>
<path class="m" d="M1388.8,638.1L1391.2,635.6"/>
<path class="m" d="M1400,633.8L1402.5,631.9"/>
<path class="m" d="M1415,631.2L1418.8,628.1"/>
<path class="m" d="M1436.9,666.2L1445,664.4"/>
<ellipse class="m" cx="1435.6" cy="621.2" rx="4.4" ry="3.1" transform="rotate(15 1435.6 621.2)"/>
<ellipse class="m" cx="1368.5" cy="666" rx="3.5" ry="2.2" transform="rotate(-25 1368.5 666)"/>
<path class="m" d="M1380,656.2C1379.7,657.7 1378.4,662.3 1378.1,665C1377.8,667.7 1378.1,671.2 1378.1,672.5"/>
<path class="m" d="M1393.8,652.5C1393.9,654 1394.6,658.3 1394.4,661.2C1394.2,664.2 1392.8,668.5 1392.5,670"/>
<path class="m" d="M1406.2,649.4L1406.2,666.2"/>
<path class="m" d="M1420.6,645.6L1421,661.2"/>
<path class="m" d="M1400.6,668.8C1404.1,667.7 1414.9,664.3 1421.2,662.5C1427.6,660.7 1435.8,658.9 1438.8,658.1"/>
<path class="m" d="M1341.9,683.8C1347.8,682.1 1369.1,676 1377.5,673.8C1385.9,671.5 1388.8,669.6 1392.5,670C1396.2,670.4 1398.8,675.2 1400,676.2"/>
<path class="m" d="M1381.2,675C1382.1,675.4 1385,676 1386.2,677.5C1387.5,679 1388.3,682.7 1388.8,683.8"/>
<ellipse class="m" cx="1356" cy="686.2" rx="2.2" ry="1.2" transform="rotate(-10 1356 686.2)"/>
<ellipse class="m" cx="1370.6" cy="682.5" rx="2.5" ry="1.4" transform="rotate(-10 1370.6 682.5)"/>
<path class="m" d="M1410,671.9C1410.4,672.1 1411.2,673 1412.5,673.1C1413.8,673.2 1416.7,672.6 1417.5,672.5"/>
<path class="o" d="M1090.6,718.1C1089.3,718.6 1084.5,719.9 1082.5,721.2C1080.5,722.6 1079,724.6 1078.8,726.2C1078.5,727.9 1079.4,729.9 1081.2,731.2C1083.1,732.6 1086.9,733.9 1090,734.4C1093.1,734.9 1096.7,734.8 1100,734.4C1103.3,734 1107.3,733.2 1110,731.9C1112.7,730.5 1115.4,728.1 1116.2,726.2C1117.1,724.4 1116,722.1 1115,720.6C1114,719.2 1111.8,718.1 1110,717.5C1108.2,716.9 1105.3,717 1104.4,716.9"/>
<path class="o" d="M1089.4,704.4C1089.6,707.2 1090,717.7 1090.6,721.2C1091.2,724.8 1091.8,724.8 1093.1,725.6C1094.5,726.5 1097.1,726.6 1098.8,726.2C1100.4,725.9 1102.1,727.4 1103.1,723.8C1104.2,720.1 1104.7,707.6 1105,704.4"/>
<path class="o" d="M1085.6,686.5C1083.9,686.8 1077.8,687.2 1075,688.1C1072.2,689 1069.9,690.4 1068.8,691.9C1067.6,693.3 1067.5,695.3 1068.1,696.9C1068.8,698.4 1070.1,700.1 1072.5,701.2C1074.9,702.4 1078.8,703.3 1082.5,703.8C1086.2,704.2 1090.8,704.2 1095,704C1099.2,703.8 1103.8,703.4 1107.5,702.5C1111.2,701.6 1115.1,700.3 1117.5,698.8C1119.9,697.2 1121.5,694.8 1121.9,693.1C1122.3,691.5 1121.1,689.9 1120,688.8C1118.9,687.6 1116.7,687 1115,686.5C1113.3,686 1110.8,686.1 1110,686"/>
<path class="o" d="M1086.9,687.5C1086.7,687.3 1085.9,690.4 1085.6,686.2C1085.3,682.1 1084.7,667.3 1085,662.5C1085.3,657.7 1086.2,658.8 1087.5,657.5C1088.8,656.2 1090.4,655.5 1092.5,655C1094.6,654.5 1097.7,654.1 1100,654.4C1102.3,654.7 1104.7,655.6 1106.2,656.9C1107.8,658.1 1108.8,657 1109.4,661.9C1110,666.8 1110,681.9 1110,686.2C1110,690.6 1110,687.1 1109.4,688.1C1108.8,689.2 1107.8,691.4 1106.2,692.5C1104.7,693.6 1102.1,694.4 1100,695C1097.9,695.6 1095.7,696.5 1093.8,696.2C1091.8,696 1089.3,695.2 1088.1,693.8C1087,692.3 1087.1,688.5 1086.9,687.5"/>
<path class="m" d="M1100,661.9C1100.4,662.4 1101.9,662.4 1102.5,665C1103.1,667.6 1103.8,673.3 1103.8,677.5C1103.8,681.7 1103.1,687.5 1102.5,690C1101.9,692.5 1100.6,693.5 1100,692.5C1099.4,691.5 1099,687.3 1098.8,683.8C1098.5,680.2 1098.5,674.9 1098.8,671.2C1099,667.6 1099.8,663.4 1100,661.9"/>
<path class="m" d="M1087.5,665L1098.8,661.9"/>
<path class="m" d="M1088.1,671.2L1098.1,669.4"/>
<path class="m" d="M1088.1,676.2L1098.8,674.4"/>
<path class="m" d="M1088.1,681.9L1098.8,680"/>
<path class="m" d="M1088.8,686.9L1098.8,685"/>
<path class="m" d="M1089.4,691.9L1099.4,690"/>
<path class="m" d="M1106.2,657.5L1100,661.9"/>
<path class="o" d="M1022.5,923L1118.8,897.5"/>
<path class="o" d="M1025,932.5L1121.2,906.2"/>
<path class="o" d="M1001.2,925C1001.7,928.3 1002.1,941 1003.8,945C1005.4,949 1008.5,948.3 1011.2,948.8C1014,949.2 1017.9,948.5 1020,947.5C1022.1,946.5 1023.1,945.8 1023.8,942.5C1024.4,939.2 1023.8,930 1023.8,927.5" style="fill:#fff"/>
<ellipse class="o" cx="1012.5" cy="924.5" rx="11.2" ry="4.8" transform="rotate(-5 1012.5 924.5)" style="fill:#fff"/>
<path class="o" d="M1130,890C1128.8,890.2 1124.6,890.4 1122.5,891.2C1120.4,892.1 1117.9,892.7 1117.5,895C1117.1,897.3 1119,902.3 1120,905C1121,907.7 1122.1,910.4 1123.8,911.2C1125.4,912.1 1129,910.2 1130,910"/>
<path class="m" d="M1123.8,892C1124.5,893.3 1127.5,896.9 1128,900C1128.5,903.1 1127.2,908.8 1127,910.5"/>
<path class="o" d="M1130,890L1138.8,887"/>
<path class="o" d="M1130,910L1140,907.5"/>
<path class="o" d="M1138.8,887L1142.5,882.5C1148.3,880.4 1170.8,871.5 1177.5,870C1184.2,868.5 1180.8,871.7 1182.5,873.8C1184.2,875.8 1186.9,879.4 1187.5,882.5C1188.1,885.6 1187.5,889.8 1186.2,892.5C1185,895.2 1181,897.7 1180,898.8C1175,900.2 1156.2,906.2 1150,907.5C1143.8,908.8 1144.4,907.9 1142.5,906.2C1140.6,904.6 1139.4,900.7 1138.8,897.5C1138.1,894.3 1138.8,888.8 1138.8,887"/>
<path class="m" d="M1145,882.5C1145.8,884.2 1149.4,888.5 1150,892.5C1150.6,896.5 1149,904 1148.8,906.2"/>
<path class="m" d="M1156.2,878.8C1157.3,880.4 1161.7,884.6 1162.5,888.8C1163.3,892.9 1161.5,901.2 1161.2,903.8"/>
<path class="m" d="M1167.5,875C1168.8,876.9 1174,882.1 1175,886.2C1176,890.4 1174,897.7 1173.8,900"/>
<path class="o" d="M1187.5,873.8C1188.3,873.3 1190.8,870.6 1192.5,871.2C1194.2,871.9 1196.7,875 1197.5,877.5C1198.3,880 1198.8,884 1197.5,886.2C1196.2,888.5 1191.2,890.4 1190,891.2"/>
<path class="o" d="M1197.5,873.8L1213.8,868.8"/>
<path class="o" d="M1198.8,883.8L1216.2,878.8"/>
<path class="o" d="M1213.8,868.8C1214,866 1214.6,863.9 1216.2,862.5C1217.9,861.1 1221.5,860.1 1223.8,860.5C1226,860.9 1228.6,862.6 1230,865C1231.4,867.4 1232.4,872.1 1232,875C1231.6,877.9 1229.5,881 1227.5,882.5C1225.5,884 1222.1,884.4 1220,883.8C1217.9,883.1 1216,881.2 1215,878.8C1214,876.2 1213.5,871.5 1213.8,868.8Z"/>
<path class="m" d="M1218.8,862.5C1219.8,864.2 1224.4,869.1 1225,872.5C1225.6,875.9 1222.9,881.2 1222.5,883"/>
<path class="o" d="M1231.2,867.5C1242.7,863.5 1286.5,847.9 1300,843.8C1313.5,839.6 1308.3,841.9 1312.5,842.5C1316.7,843.1 1320.4,844.4 1325,847.5C1329.6,850.6 1336.9,858.1 1340,861.2C1343.1,864.4 1343.1,865.4 1343.8,866.2"/>
<path class="o" d="M1232.5,871.8C1244.2,868.1 1289.2,853.6 1302.5,850C1315.8,846.4 1309.2,849.2 1312.5,850C1315.8,850.8 1318.8,852.1 1322.5,855C1326.2,857.9 1332.3,865 1335,867.5C1337.7,870 1338.1,869.6 1338.8,870"/>
<ellipse class="o" cx="1347.5" cy="873" rx="7.5" ry="7.5" style="fill:#fff"/>
<path class="o" d="M1348.8,903.1C1349,902.7 1348.8,901 1350,900.6C1351.2,900.2 1353.8,900.7 1356.2,900.6C1358.8,900.5 1363.5,900.1 1365,900"/>
<path class="o" d="M1390.6,901.2C1392.2,900.7 1396.8,898.9 1400,898.1C1403.2,897.4 1407.5,896.8 1410,896.9C1412.5,897 1413.1,897.5 1415,898.8C1416.9,900 1418.8,902.6 1421.2,904.4C1423.8,906.1 1427.7,908 1430,909.4C1432.3,910.7 1434.3,911.1 1435,912.5C1435.7,913.9 1435.2,915.6 1434.4,917.5C1433.5,919.4 1431.8,921.7 1430,923.8C1428.2,925.8 1425.8,928.3 1423.8,930C1421.7,931.7 1419.8,932.9 1417.5,933.8C1415.2,934.6 1412.9,934.8 1410,935C1407.1,935.2 1402.5,934.6 1400,935C1397.5,935.4 1396.7,936.4 1395,937.5C1393.3,938.6 1392.3,940.5 1390,941.9C1387.7,943.2 1384.6,944.7 1381.2,945.6C1377.9,946.6 1372.9,947.5 1370,947.5C1367.1,947.5 1365.8,946.9 1363.8,945.6C1361.7,944.4 1359.1,941.6 1357.5,940C1355.9,938.4 1354.6,937.5 1354.4,936.2C1354.2,935 1354.5,933.9 1356.2,932.5C1358,931.1 1362.1,929.5 1365,928.1C1367.9,926.8 1371.7,925.5 1373.8,924.4C1375.8,923.2 1377.1,922.3 1377.5,921.2C1377.9,920.2 1377.5,919.4 1376.2,918.1C1375,916.9 1372.7,915.3 1370,913.8C1367.3,912.2 1362.9,910.1 1360,908.8C1357.1,907.4 1354.4,906.6 1352.5,905.6C1350.6,904.7 1349.4,903.5 1348.8,903.1"/>
<path class="o" d="M1360.6,891.2C1360.9,890.5 1361.2,888.1 1362.5,886.9C1363.8,885.7 1366.4,884.2 1368.1,884C1369.9,883.8 1372.3,885.4 1373.1,885.6C1375.9,888.6 1387.2,900.1 1390,903.8C1392.8,907.4 1390.6,906.2 1390,907.5C1389.4,908.8 1387.7,910.5 1386.2,911.2C1384.8,912 1382.9,912.3 1381.2,911.9C1379.6,911.5 1377.1,909.3 1376.2,908.8C1374.4,906.9 1367.6,900.4 1365,897.5C1362.4,894.6 1361.4,892.3 1360.6,891.2" style="fill:#fff"/>
<path class="m" d="M1365,898.1C1366.5,897.7 1371.6,896.8 1373.8,895.6C1375.9,894.5 1377.4,892 1378.1,891.2"/>
<path class="m" d="M1370,903.1C1371.5,902.8 1376.7,902.4 1378.8,901.2C1380.8,900.1 1381.9,897.1 1382.5,896.2"/>
<path class="m" d="M1375,908.1C1376.5,907.8 1381.7,907.4 1383.8,906.2C1385.8,905.1 1386.9,902.1 1387.5,901.2"/>
<path class="m" d="M1352.5,903.8C1353.8,904 1357.1,904 1360,905C1362.9,906 1366.7,908.1 1370,910C1373.3,911.9 1377.5,914.9 1380,916.2C1382.5,917.6 1382.5,918.2 1385,918.1C1387.5,918 1390.4,917 1395,915.6C1399.6,914.3 1407.1,911.1 1412.5,910C1417.9,908.9 1425,909 1427.5,908.8"/>
<path class="m" d="M1377.5,921.9C1379.2,922 1383.8,922.9 1387.5,922.5C1391.2,922.1 1395,920.8 1400,919.4C1405,917.9 1412.7,915.1 1417.5,913.8C1422.3,912.4 1426.9,911.7 1428.8,911.2"/>
<path class="m" d="M1387.5,923.8C1387.3,924.8 1387.3,927.9 1386.2,930C1385.2,932.1 1383.3,934.7 1381.2,936.2C1379.2,937.8 1376,938.6 1373.8,939.4C1371.5,940.1 1368.6,940 1367.5,940.6C1366.4,941.2 1367,942.7 1366.9,943.1"/>
<path class="m" d="M1400,921.2L1400.6,928.8"/>
<path class="m" d="M1405,929.4C1406.2,928.9 1410,927.8 1412.5,926.2C1415,924.7 1417.9,922.1 1420,920C1422.1,917.9 1424.2,914.8 1425,913.8"/>
<ellipse class="m" cx="1404.4" cy="905" rx="1.9" ry="2.2"/>
<ellipse class="m" cx="1412.5" cy="908.1" rx="1" ry="1"/>
<ellipse class="m" cx="1411" cy="923.8" rx="1.6" ry="1.4"/>
<path class="m" d="M1396.2,908.8L1398.8,908.5"/>
<text class="lbl" x="357.5" y="114.5" style="font-size:57px">6</text>
<text class="lbl" x="616" y="134.3" style="font-size:57px">1</text>
<text class="lbl" x="981" y="93" style="font-size:57px">8</text>
<text class="lbl" x="1178.5" y="74.5" style="font-size:57px">21</text>
<text class="lbl" x="1058" y="204" style="font-size:57px">11</text>
<text class="lbl" x="1352.5" y="435.5" style="font-size:57px">8</text>
<text class="lbl" x="1092.5" y="475" style="font-size:57px">4</text>
<text class="lbl" x="176" y="671.5" style="font-size:57px">7</text>
<text class="lbl" x="252" y="702.5" style="font-size:57px">13</text>
<text class="lbl" x="355.5" y="740" style="font-size:57px">10</text>
<text class="lbl" x="136" y="877.5" style="font-size:57px;fill:#000">12</text>
<text class="lbl" x="374.5" y="805.5" style="font-size:57px">14</text>
<text class="lbl" x="686.5" y="720" style="font-size:57px">3</text>
<text class="lbl" x="551" y="812.5" style="font-size:57px">7</text>
<text class="lbl" x="674" y="795" style="font-size:57px">2</text>
<text class="lbl" x="485" y="852.5" style="font-size:57px">9</text>
<text class="lbl" x="736" y="922.5" style="font-size:57px">16</text>
<text class="lbl" x="396" y="1058.5" style="font-size:57px">18</text>
<text class="lbl" x="1077" y="825" style="font-size:57px">5</text>
<text class="lbl" x="1243.5" y="704" style="font-size:57px">20</text>
<text class="lbl" x="1352" y="781" style="font-size:57px">19</text>
<text class="lbl" x="1151" y="992.5" style="font-size:57px">17</text>
<text class="lbl" x="1391.5" y="1027" style="font-size:57px">15</text>
<path d="M370.6,120 L370.6,152.5" stroke="#808080" stroke-width="3.1" fill="none"/>
<path d="M370.6,165 L361.7,150.5 L379.5,150.5 Z" fill="#808080" stroke="none"/>
<path d="M626,139 L626,175.7" stroke="#808080" stroke-width="3.1" fill="none"/>
<path d="M626,188.2 L617.1,173.7 L634.9,173.7 Z" fill="#808080" stroke="none"/>
<path d="M995.9,100 L995.9,126.2" stroke="#808080" stroke-width="3.1" fill="none"/>
<path d="M995.9,138.8 L987,124.2 L1004.8,124.2 Z" fill="#808080" stroke="none"/>
<path d="M1205.5,83.8 L1205.5,115" stroke="#808080" stroke-width="3.1" fill="none"/>
<path d="M1205.5,127.5 L1196.6,113 L1214.4,113 Z" fill="#808080" stroke="none"/>
<path d="M1081,207.5 L1081,238.8" stroke="#808080" stroke-width="3.1" fill="none"/>
<path d="M1081,251.2 L1072.1,236.8 L1089.9,236.8 Z" fill="#808080" stroke="none"/>
<path d="M1364,390 L1364,357.5" stroke="#808080" stroke-width="3.1" fill="none"/>
<path d="M1364,345 L1372.9,359.5 L1355.1,359.5 Z" fill="#808080" stroke="none"/>
<path d="M1096.5,476 L1078.2,499.2" stroke="#808080" stroke-width="3.1" fill="none"/>
<path d="M1070.5,509 L1072.5,492.1 L1086.5,503.1 Z" fill="#808080" stroke="none"/>
<path d="M188,626 L188,595" stroke="#808080" stroke-width="3.1" fill="none"/>
<path d="M188,582.5 L196.9,597 L179.1,597 Z" fill="#808080" stroke="none"/>
<path d="M278.2,708.8 L278.2,740.5" stroke="#808080" stroke-width="3.1" fill="none"/>
<path d="M278.2,753 L269.3,738.5 L287.1,738.5 Z" fill="#808080" stroke="none"/>
<path d="M379,692 L379,661" stroke="#808080" stroke-width="3.1" fill="none"/>
<path d="M379,648.5 L387.9,663 L370.1,663 Z" fill="#808080" stroke="none"/>
<path d="M159.6,828 L159.6,797" stroke="#000" stroke-width="3.1" fill="none"/>
<path d="M159.6,784.5 L168.5,799 L150.7,799 Z" fill="#000" stroke="none"/>
<path d="M370,789 L338.8,789" stroke="#808080" stroke-width="3.1" fill="none"/>
<path d="M326.2,789 L340.8,780.1 L340.8,797.9 Z" fill="#808080" stroke="none"/>
<path d="M686.5,697.5 L655.5,697.5" stroke="#808080" stroke-width="3.1" fill="none"/>
<path d="M643,697.5 L657.5,688.6 L657.5,706.4 Z" fill="#808080" stroke="none"/>
<path d="M562.5,767.5 L562.5,735.5" stroke="#808080" stroke-width="3.1" fill="none"/>
<path d="M562.5,723 L571.4,737.5 L553.6,737.5 Z" fill="#808080" stroke="none"/>
<path d="M671,777.5 L638.8,777.5" stroke="#808080" stroke-width="3.1" fill="none"/>
<path d="M626.2,777.5 L640.8,768.6 L640.8,786.4 Z" fill="#808080" stroke="none"/>
<path d="M497.8,859.4 L497.8,890.5" stroke="#808080" stroke-width="3.1" fill="none"/>
<path d="M497.8,903 L488.9,888.5 L506.6,888.5 Z" fill="#808080" stroke="none"/>
<path d="M756.5,875.6 L756.5,845.5" stroke="#808080" stroke-width="3.1" fill="none"/>
<path d="M756.5,833 L765.4,847.5 L747.6,847.5 Z" fill="#808080" stroke="none"/>
<path d="M420.2,1012.5 L420.2,981.9" stroke="#808080" stroke-width="3.1" fill="none"/>
<path d="M420.2,969.4 L429.1,983.9 L411.4,983.9 Z" fill="#808080" stroke="none"/>
<path d="M1089,789.5 L1089,748.1" stroke="#808080" stroke-width="3.1" fill="none"/>
<path d="M1089,735.6 L1097.9,750.1 L1080.1,750.1 Z" fill="#808080" stroke="none"/>
<path d="M1268,658.8 L1268,627" stroke="#808080" stroke-width="3.1" fill="none"/>
<path d="M1268,614.5 L1276.9,629 L1259.1,629 Z" fill="#808080" stroke="none"/>
<path d="M1373.8,726 L1373.8,702.5" stroke="#808080" stroke-width="3.1" fill="none"/>
<path d="M1373.8,690 L1382.7,704.5 L1364.8,704.5 Z" fill="#808080" stroke="none"/>
<path d="M1170.5,946 L1170.5,917" stroke="#808080" stroke-width="3.1" fill="none"/>
<path d="M1170.5,904.5 L1179.4,919 L1161.6,919 Z" fill="#808080" stroke="none"/>
<path d="M1414,981 L1414,948.8" stroke="#808080" stroke-width="3.1" fill="none"/>
<path d="M1414,936.2 L1422.9,950.8 L1405.1,950.8 Z" fill="#808080" stroke="none"/>
</svg>
</body></html>
